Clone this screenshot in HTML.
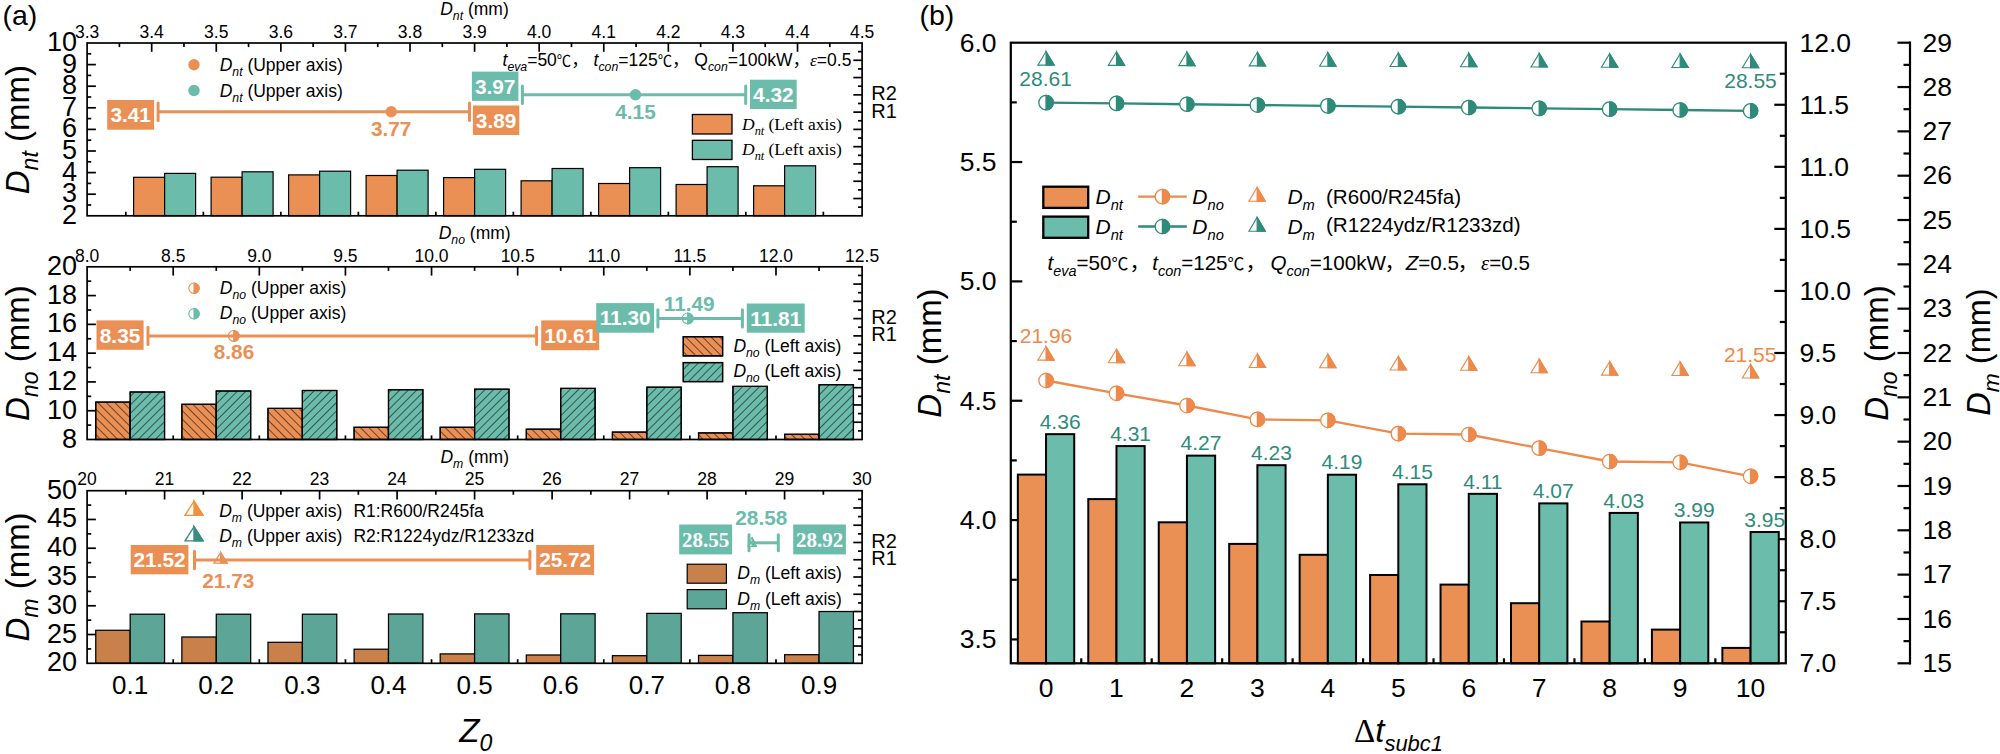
<!DOCTYPE html>
<html lang="en"><head><meta charset="utf-8"><title>Figure</title>
<style>html,body{margin:0;padding:0;background:#fff}svg{display:block}</style></head><body>
<svg width="2000" height="754" viewBox="0 0 2000 754">
<defs>
<pattern id="hb" width="6" height="6" patternUnits="userSpaceOnUse" patternTransform="rotate(-45)"><line x1="0" y1="0" x2="0" y2="6" stroke="#000" stroke-width="1.1"/></pattern>
<pattern id="hf" width="6" height="6" patternUnits="userSpaceOnUse" patternTransform="rotate(45)"><line x1="0" y1="0" x2="0" y2="6" stroke="#000" stroke-width="1.1"/></pattern>
</defs>
<rect x="0" y="0" width="2000" height="754" fill="#fff"/>
<text x="2.5" y="24.7" font-family='"Liberation Sans", sans-serif' font-size="28.5" fill="#000" >(a)</text>
<text x="919.5" y="24.7" font-family='"Liberation Sans", sans-serif' font-size="28.5" fill="#000" >(b)</text>
<line x1="125.85" y1="215.8" x2="125.85" y2="211.7" stroke="#000" stroke-width="1.7" />
<line x1="203.35" y1="215.8" x2="203.35" y2="211.7" stroke="#000" stroke-width="1.7" />
<line x1="280.85" y1="215.8" x2="280.85" y2="211.7" stroke="#000" stroke-width="1.7" />
<line x1="358.35" y1="215.8" x2="358.35" y2="211.7" stroke="#000" stroke-width="1.7" />
<line x1="435.85" y1="215.8" x2="435.85" y2="211.7" stroke="#000" stroke-width="1.7" />
<line x1="513.35" y1="215.8" x2="513.35" y2="211.7" stroke="#000" stroke-width="1.7" />
<line x1="590.85" y1="215.8" x2="590.85" y2="211.7" stroke="#000" stroke-width="1.7" />
<line x1="668.35" y1="215.8" x2="668.35" y2="211.7" stroke="#000" stroke-width="1.7" />
<line x1="745.85" y1="215.8" x2="745.85" y2="211.7" stroke="#000" stroke-width="1.7" />
<line x1="823.35" y1="215.8" x2="823.35" y2="211.7" stroke="#000" stroke-width="1.7" />
<line x1="164.6" y1="215.8" x2="164.6" y2="207" stroke="#000" stroke-width="1.7" />
<line x1="242.1" y1="215.8" x2="242.1" y2="207" stroke="#000" stroke-width="1.7" />
<line x1="319.6" y1="215.8" x2="319.6" y2="207" stroke="#000" stroke-width="1.7" />
<line x1="397.1" y1="215.8" x2="397.1" y2="207" stroke="#000" stroke-width="1.7" />
<line x1="474.6" y1="215.8" x2="474.6" y2="207" stroke="#000" stroke-width="1.7" />
<line x1="552.1" y1="215.8" x2="552.1" y2="207" stroke="#000" stroke-width="1.7" />
<line x1="629.6" y1="215.8" x2="629.6" y2="207" stroke="#000" stroke-width="1.7" />
<line x1="707.1" y1="215.8" x2="707.1" y2="207" stroke="#000" stroke-width="1.7" />
<line x1="784.6" y1="215.8" x2="784.6" y2="207" stroke="#000" stroke-width="1.7" />
<rect x="133.6" y="177.3" width="31" height="38.5" fill="#EB9055" stroke="#000" stroke-width="1.2" />
<rect x="164.6" y="173.4" width="31" height="42.4" fill="#6CBCAB" stroke="#000" stroke-width="1.2" />
<rect x="211.1" y="177.2" width="31" height="38.6" fill="#EB9055" stroke="#000" stroke-width="1.2" />
<rect x="242.1" y="171.8" width="31" height="44" fill="#6CBCAB" stroke="#000" stroke-width="1.2" />
<rect x="288.6" y="174.9" width="31" height="40.9" fill="#EB9055" stroke="#000" stroke-width="1.2" />
<rect x="319.6" y="171.2" width="31" height="44.6" fill="#6CBCAB" stroke="#000" stroke-width="1.2" />
<rect x="366.1" y="175.5" width="31" height="40.3" fill="#EB9055" stroke="#000" stroke-width="1.2" />
<rect x="397.1" y="170.2" width="31" height="45.6" fill="#6CBCAB" stroke="#000" stroke-width="1.2" />
<rect x="443.6" y="177.6" width="31" height="38.2" fill="#EB9055" stroke="#000" stroke-width="1.2" />
<rect x="474.6" y="169.3" width="31" height="46.5" fill="#6CBCAB" stroke="#000" stroke-width="1.2" />
<rect x="521.1" y="180.8" width="31" height="35" fill="#EB9055" stroke="#000" stroke-width="1.2" />
<rect x="552.1" y="168.5" width="31" height="47.3" fill="#6CBCAB" stroke="#000" stroke-width="1.2" />
<rect x="598.6" y="183.5" width="31" height="32.3" fill="#EB9055" stroke="#000" stroke-width="1.2" />
<rect x="629.6" y="167.7" width="31" height="48.1" fill="#6CBCAB" stroke="#000" stroke-width="1.2" />
<rect x="676.1" y="184.5" width="31" height="31.3" fill="#EB9055" stroke="#000" stroke-width="1.2" />
<rect x="707.1" y="166.7" width="31" height="49.1" fill="#6CBCAB" stroke="#000" stroke-width="1.2" />
<rect x="753.6" y="185.8" width="31" height="30" fill="#EB9055" stroke="#000" stroke-width="1.2" />
<rect x="784.6" y="165.8" width="31" height="50" fill="#6CBCAB" stroke="#000" stroke-width="1.2" />
<line x1="151.68" y1="43" x2="151.68" y2="51.8" stroke="#000" stroke-width="1.7" />
<line x1="216.27" y1="43" x2="216.27" y2="51.8" stroke="#000" stroke-width="1.7" />
<line x1="280.85" y1="43" x2="280.85" y2="51.8" stroke="#000" stroke-width="1.7" />
<line x1="345.43" y1="43" x2="345.43" y2="51.8" stroke="#000" stroke-width="1.7" />
<line x1="410.02" y1="43" x2="410.02" y2="51.8" stroke="#000" stroke-width="1.7" />
<line x1="474.6" y1="43" x2="474.6" y2="51.8" stroke="#000" stroke-width="1.7" />
<line x1="539.18" y1="43" x2="539.18" y2="51.8" stroke="#000" stroke-width="1.7" />
<line x1="603.77" y1="43" x2="603.77" y2="51.8" stroke="#000" stroke-width="1.7" />
<line x1="668.35" y1="43" x2="668.35" y2="51.8" stroke="#000" stroke-width="1.7" />
<line x1="732.93" y1="43" x2="732.93" y2="51.8" stroke="#000" stroke-width="1.7" />
<line x1="797.52" y1="43" x2="797.52" y2="51.8" stroke="#000" stroke-width="1.7" />
<line x1="119.39" y1="43" x2="119.39" y2="47.1" stroke="#000" stroke-width="1.7" />
<line x1="183.97" y1="43" x2="183.97" y2="47.1" stroke="#000" stroke-width="1.7" />
<line x1="248.56" y1="43" x2="248.56" y2="47.1" stroke="#000" stroke-width="1.7" />
<line x1="313.14" y1="43" x2="313.14" y2="47.1" stroke="#000" stroke-width="1.7" />
<line x1="377.73" y1="43" x2="377.73" y2="47.1" stroke="#000" stroke-width="1.7" />
<line x1="442.31" y1="43" x2="442.31" y2="47.1" stroke="#000" stroke-width="1.7" />
<line x1="506.89" y1="43" x2="506.89" y2="47.1" stroke="#000" stroke-width="1.7" />
<line x1="571.47" y1="43" x2="571.47" y2="47.1" stroke="#000" stroke-width="1.7" />
<line x1="636.06" y1="43" x2="636.06" y2="47.1" stroke="#000" stroke-width="1.7" />
<line x1="700.64" y1="43" x2="700.64" y2="47.1" stroke="#000" stroke-width="1.7" />
<line x1="765.23" y1="43" x2="765.23" y2="47.1" stroke="#000" stroke-width="1.7" />
<line x1="829.81" y1="43" x2="829.81" y2="47.1" stroke="#000" stroke-width="1.7" />
<text x="87.1" y="37.6" font-family='"Liberation Sans", sans-serif' font-size="17.5" fill="#000" text-anchor="middle" >3.3</text>
<text x="151.68" y="37.6" font-family='"Liberation Sans", sans-serif' font-size="17.5" fill="#000" text-anchor="middle" >3.4</text>
<text x="216.27" y="37.6" font-family='"Liberation Sans", sans-serif' font-size="17.5" fill="#000" text-anchor="middle" >3.5</text>
<text x="280.85" y="37.6" font-family='"Liberation Sans", sans-serif' font-size="17.5" fill="#000" text-anchor="middle" >3.6</text>
<text x="345.43" y="37.6" font-family='"Liberation Sans", sans-serif' font-size="17.5" fill="#000" text-anchor="middle" >3.7</text>
<text x="410.02" y="37.6" font-family='"Liberation Sans", sans-serif' font-size="17.5" fill="#000" text-anchor="middle" >3.8</text>
<text x="474.6" y="37.6" font-family='"Liberation Sans", sans-serif' font-size="17.5" fill="#000" text-anchor="middle" >3.9</text>
<text x="539.18" y="37.6" font-family='"Liberation Sans", sans-serif' font-size="17.5" fill="#000" text-anchor="middle" >4.0</text>
<text x="603.77" y="37.6" font-family='"Liberation Sans", sans-serif' font-size="17.5" fill="#000" text-anchor="middle" >4.1</text>
<text x="668.35" y="37.6" font-family='"Liberation Sans", sans-serif' font-size="17.5" fill="#000" text-anchor="middle" >4.2</text>
<text x="732.93" y="37.6" font-family='"Liberation Sans", sans-serif' font-size="17.5" fill="#000" text-anchor="middle" >4.3</text>
<text x="797.52" y="37.6" font-family='"Liberation Sans", sans-serif' font-size="17.5" fill="#000" text-anchor="middle" >4.4</text>
<text x="862.1" y="37.6" font-family='"Liberation Sans", sans-serif' font-size="17.5" fill="#000" text-anchor="middle" >4.5</text>
<line x1="87.1" y1="64.6" x2="95.9" y2="64.6" stroke="#000" stroke-width="1.7" />
<line x1="87.1" y1="86.2" x2="95.9" y2="86.2" stroke="#000" stroke-width="1.7" />
<line x1="87.1" y1="107.8" x2="95.9" y2="107.8" stroke="#000" stroke-width="1.7" />
<line x1="87.1" y1="129.4" x2="95.9" y2="129.4" stroke="#000" stroke-width="1.7" />
<line x1="87.1" y1="151" x2="95.9" y2="151" stroke="#000" stroke-width="1.7" />
<line x1="87.1" y1="172.6" x2="95.9" y2="172.6" stroke="#000" stroke-width="1.7" />
<line x1="87.1" y1="194.2" x2="95.9" y2="194.2" stroke="#000" stroke-width="1.7" />
<line x1="87.1" y1="53.8" x2="91.2" y2="53.8" stroke="#000" stroke-width="1.7" />
<line x1="87.1" y1="75.4" x2="91.2" y2="75.4" stroke="#000" stroke-width="1.7" />
<line x1="87.1" y1="97" x2="91.2" y2="97" stroke="#000" stroke-width="1.7" />
<line x1="87.1" y1="118.6" x2="91.2" y2="118.6" stroke="#000" stroke-width="1.7" />
<line x1="87.1" y1="140.2" x2="91.2" y2="140.2" stroke="#000" stroke-width="1.7" />
<line x1="87.1" y1="161.8" x2="91.2" y2="161.8" stroke="#000" stroke-width="1.7" />
<line x1="87.1" y1="183.4" x2="91.2" y2="183.4" stroke="#000" stroke-width="1.7" />
<line x1="87.1" y1="205" x2="91.2" y2="205" stroke="#000" stroke-width="1.7" />
<text x="77" y="51" font-family='"Liberation Sans", sans-serif' font-size="27" fill="#000" text-anchor="end" >10</text>
<text x="77" y="72.6" font-family='"Liberation Sans", sans-serif' font-size="27" fill="#000" text-anchor="end" >9</text>
<text x="77" y="94.2" font-family='"Liberation Sans", sans-serif' font-size="27" fill="#000" text-anchor="end" >8</text>
<text x="77" y="115.8" font-family='"Liberation Sans", sans-serif' font-size="27" fill="#000" text-anchor="end" >7</text>
<text x="77" y="137.4" font-family='"Liberation Sans", sans-serif' font-size="27" fill="#000" text-anchor="end" >6</text>
<text x="77" y="159" font-family='"Liberation Sans", sans-serif' font-size="27" fill="#000" text-anchor="end" >5</text>
<text x="77" y="180.6" font-family='"Liberation Sans", sans-serif' font-size="27" fill="#000" text-anchor="end" >4</text>
<text x="77" y="202.2" font-family='"Liberation Sans", sans-serif' font-size="27" fill="#000" text-anchor="end" >3</text>
<text x="77" y="223.8" font-family='"Liberation Sans", sans-serif' font-size="27" fill="#000" text-anchor="end" >2</text>
<line x1="862.1" y1="60.28" x2="853.3" y2="60.28" stroke="#000" stroke-width="1.7" />
<line x1="862.1" y1="77.56" x2="853.3" y2="77.56" stroke="#000" stroke-width="1.7" />
<line x1="862.1" y1="94.84" x2="853.3" y2="94.84" stroke="#000" stroke-width="1.7" />
<line x1="862.1" y1="112.12" x2="853.3" y2="112.12" stroke="#000" stroke-width="1.7" />
<line x1="862.1" y1="129.4" x2="853.3" y2="129.4" stroke="#000" stroke-width="1.7" />
<line x1="862.1" y1="146.68" x2="853.3" y2="146.68" stroke="#000" stroke-width="1.7" />
<line x1="862.1" y1="163.96" x2="853.3" y2="163.96" stroke="#000" stroke-width="1.7" />
<line x1="862.1" y1="181.24" x2="853.3" y2="181.24" stroke="#000" stroke-width="1.7" />
<line x1="862.1" y1="198.52" x2="853.3" y2="198.52" stroke="#000" stroke-width="1.7" />
<line x1="862.1" y1="51.64" x2="858" y2="51.64" stroke="#000" stroke-width="1.7" />
<line x1="862.1" y1="68.92" x2="858" y2="68.92" stroke="#000" stroke-width="1.7" />
<line x1="862.1" y1="86.2" x2="858" y2="86.2" stroke="#000" stroke-width="1.7" />
<line x1="862.1" y1="103.48" x2="858" y2="103.48" stroke="#000" stroke-width="1.7" />
<line x1="862.1" y1="120.76" x2="858" y2="120.76" stroke="#000" stroke-width="1.7" />
<line x1="862.1" y1="138.04" x2="858" y2="138.04" stroke="#000" stroke-width="1.7" />
<line x1="862.1" y1="155.32" x2="858" y2="155.32" stroke="#000" stroke-width="1.7" />
<line x1="862.1" y1="172.6" x2="858" y2="172.6" stroke="#000" stroke-width="1.7" />
<line x1="862.1" y1="189.88" x2="858" y2="189.88" stroke="#000" stroke-width="1.7" />
<line x1="862.1" y1="207.16" x2="858" y2="207.16" stroke="#000" stroke-width="1.7" />
<text x="871.3" y="100.44" font-family='"Liberation Sans", sans-serif' font-size="20" fill="#000" >R2</text>
<text x="871.3" y="117.72" font-family='"Liberation Sans", sans-serif' font-size="20" fill="#000" >R1</text>
<rect x="87.1" y="43" width="775" height="172.8" fill="none" stroke="#000" stroke-width="1.7"/>
<text x="474.5" y="14.7" font-family='"Liberation Sans", sans-serif' font-size="17.5" fill="#000" text-anchor="middle" ><tspan font-style="italic">D</tspan><tspan font-style="italic" font-size="12.25" baseline-shift="-4.73">nt</tspan> (mm)</text>
<text transform="translate(29.2,129.6) rotate(-90)" font-family='"Liberation Sans", sans-serif' font-size="33" text-anchor="middle"><tspan font-style="italic">D</tspan><tspan font-style="italic" font-size="23.1" baseline-shift="-8.91">nt</tspan> (mm)</text>
<circle cx="194" cy="64.7" r="5.7" fill="#EB9055"/>
<circle cx="194" cy="90.5" r="5.7" fill="#6CBCAB"/>
<text x="219.7" y="70.7" font-family='"Liberation Sans", sans-serif' font-size="17.5" fill="#000" ><tspan font-style="italic">D</tspan><tspan font-style="italic" font-size="12.25" baseline-shift="-4.73">nt</tspan> (Upper axis)</text>
<text x="219.7" y="96.5" font-family='"Liberation Sans", sans-serif' font-size="17.5" fill="#000" ><tspan font-style="italic">D</tspan><tspan font-style="italic" font-size="12.25" baseline-shift="-4.73">nt</tspan> (Upper axis)</text>
<text x="851.4" y="65.9" font-family='"Liberation Sans", "Noto Sans CJK SC", sans-serif' font-size="17.5" fill="#000" text-anchor="end" ><tspan font-style="italic">t</tspan><tspan font-style="italic" font-size="12.25" baseline-shift="-4.73">eva</tspan>=50<tspan font-size="14.35" font-family='"Liberation Sans", "Noto Sans CJK SC", sans-serif'>℃</tspan><tspan font-family='"Liberation Sans", "Noto Sans CJK SC", sans-serif'>，</tspan> <tspan font-style="italic">t</tspan><tspan font-style="italic" font-size="12.25" baseline-shift="-4.73">con</tspan>=125<tspan font-size="14.35" font-family='"Liberation Sans", "Noto Sans CJK SC", sans-serif'>℃</tspan><tspan font-family='"Liberation Sans", "Noto Sans CJK SC", sans-serif'>，</tspan> <tspan>Q</tspan><tspan font-style="italic" font-size="12.25" baseline-shift="-4.73">con</tspan>=100kW<tspan font-family='"Liberation Sans", "Noto Sans CJK SC", sans-serif'>，</tspan><tspan font-style="italic" font-family='"Liberation Serif", serif'>ε</tspan>=0.5</text>
<line x1="158.1" y1="111.8" x2="469.5" y2="111.8" stroke="#EB9055" stroke-width="3" />
<line x1="158.1" y1="103.1" x2="158.1" y2="120.5" stroke="#EB9055" stroke-width="3" stroke-linecap="round"/>
<line x1="469.5" y1="103.1" x2="469.5" y2="120.5" stroke="#EB9055" stroke-width="3" stroke-linecap="round"/>
<circle cx="391.2" cy="111.8" r="5.7" fill="#EB9055"/>
<line x1="522.4" y1="94.7" x2="745.7" y2="94.7" stroke="#6CBCAB" stroke-width="3" />
<line x1="522.4" y1="86" x2="522.4" y2="103.4" stroke="#6CBCAB" stroke-width="3" stroke-linecap="round"/>
<line x1="745.7" y1="86" x2="745.7" y2="103.4" stroke="#6CBCAB" stroke-width="3" stroke-linecap="round"/>
<circle cx="635.5" cy="94.7" r="5.7" fill="#6CBCAB"/>
<rect x="107.2" y="100" width="46.9" height="29.7" fill="#EB9055" />
<text x="130.65" y="122.3" font-family='"Liberation Sans", sans-serif' font-size="20.8" fill="#fff" text-anchor="middle" font-weight="bold" >3.41</text>
<rect x="472.9" y="105.5" width="46.4" height="29.5" fill="#EB9055" />
<text x="496.1" y="127.7" font-family='"Liberation Sans", sans-serif' font-size="20.8" fill="#fff" text-anchor="middle" font-weight="bold" >3.89</text>
<rect x="471.9" y="71.6" width="46.5" height="29.3" fill="#6CBCAB" />
<text x="495.15" y="93.7" font-family='"Liberation Sans", sans-serif' font-size="20.8" fill="#fff" text-anchor="middle" font-weight="bold" >3.97</text>
<rect x="750" y="79.7" width="46.7" height="29.3" fill="#6CBCAB" />
<text x="773.35" y="101.8" font-family='"Liberation Sans", sans-serif' font-size="20.8" fill="#fff" text-anchor="middle" font-weight="bold" >4.32</text>
<text x="391.2" y="136" font-family='"Liberation Sans", sans-serif' font-size="20.8" fill="#EB9055" text-anchor="middle" font-weight="bold" >3.77</text>
<text x="635.5" y="118.7" font-family='"Liberation Sans", sans-serif' font-size="20.8" fill="#6CBCAB" text-anchor="middle" font-weight="bold" >4.15</text>
<rect x="692.4" y="114.5" width="39.6" height="19.5" fill="#EB9055" stroke="#000" stroke-width="1.3" />
<rect x="692.4" y="140.3" width="39.6" height="19.2" fill="#6CBCAB" stroke="#000" stroke-width="1.3" />
<text x="742" y="129.7" font-family='"Liberation Serif", serif' font-size="17.5" fill="#000" ><tspan font-style="italic">D</tspan><tspan font-style="italic" font-size="12.25" baseline-shift="-4.73">nt</tspan> (Left axis)</text>
<text x="742" y="155.2" font-family='"Liberation Serif", serif' font-size="17.5" fill="#000" ><tspan font-style="italic">D</tspan><tspan font-style="italic" font-size="12.25" baseline-shift="-4.73">nt</tspan> (Left axis)</text>
<line x1="173.21" y1="439.5" x2="173.21" y2="435.4" stroke="#000" stroke-width="1.7" />
<line x1="259.32" y1="439.5" x2="259.32" y2="435.4" stroke="#000" stroke-width="1.7" />
<line x1="345.43" y1="439.5" x2="345.43" y2="435.4" stroke="#000" stroke-width="1.7" />
<line x1="431.54" y1="439.5" x2="431.54" y2="435.4" stroke="#000" stroke-width="1.7" />
<line x1="517.66" y1="439.5" x2="517.66" y2="435.4" stroke="#000" stroke-width="1.7" />
<line x1="603.77" y1="439.5" x2="603.77" y2="435.4" stroke="#000" stroke-width="1.7" />
<line x1="689.88" y1="439.5" x2="689.88" y2="435.4" stroke="#000" stroke-width="1.7" />
<line x1="775.99" y1="439.5" x2="775.99" y2="435.4" stroke="#000" stroke-width="1.7" />
<rect x="95.76" y="402.1" width="34.4" height="37.4" fill="#EB9055" stroke="#000" stroke-width="1.2" />
<rect x="95.76" y="402.1" width="34.4" height="37.4" fill="url(#hb)"/>
<rect x="95.76" y="402.1" width="34.4" height="37.4" fill="none" stroke="#000" stroke-width="1.2"/>
<rect x="130.16" y="392" width="34.4" height="47.5" fill="#6CBCAB" stroke="#000" stroke-width="1.2" />
<rect x="130.16" y="392" width="34.4" height="47.5" fill="url(#hf)"/>
<rect x="130.16" y="392" width="34.4" height="47.5" fill="none" stroke="#000" stroke-width="1.2"/>
<rect x="181.87" y="404.3" width="34.4" height="35.2" fill="#EB9055" stroke="#000" stroke-width="1.2" />
<rect x="181.87" y="404.3" width="34.4" height="35.2" fill="url(#hb)"/>
<rect x="181.87" y="404.3" width="34.4" height="35.2" fill="none" stroke="#000" stroke-width="1.2"/>
<rect x="216.27" y="391" width="34.4" height="48.5" fill="#6CBCAB" stroke="#000" stroke-width="1.2" />
<rect x="216.27" y="391" width="34.4" height="48.5" fill="url(#hf)"/>
<rect x="216.27" y="391" width="34.4" height="48.5" fill="none" stroke="#000" stroke-width="1.2"/>
<rect x="267.98" y="408.4" width="34.4" height="31.1" fill="#EB9055" stroke="#000" stroke-width="1.2" />
<rect x="267.98" y="408.4" width="34.4" height="31.1" fill="url(#hb)"/>
<rect x="267.98" y="408.4" width="34.4" height="31.1" fill="none" stroke="#000" stroke-width="1.2"/>
<rect x="302.38" y="390.5" width="34.4" height="49" fill="#6CBCAB" stroke="#000" stroke-width="1.2" />
<rect x="302.38" y="390.5" width="34.4" height="49" fill="url(#hf)"/>
<rect x="302.38" y="390.5" width="34.4" height="49" fill="none" stroke="#000" stroke-width="1.2"/>
<rect x="354.09" y="427.3" width="34.4" height="12.2" fill="#EB9055" stroke="#000" stroke-width="1.2" />
<rect x="354.09" y="427.3" width="34.4" height="12.2" fill="url(#hb)"/>
<rect x="354.09" y="427.3" width="34.4" height="12.2" fill="none" stroke="#000" stroke-width="1.2"/>
<rect x="388.49" y="389.7" width="34.4" height="49.8" fill="#6CBCAB" stroke="#000" stroke-width="1.2" />
<rect x="388.49" y="389.7" width="34.4" height="49.8" fill="url(#hf)"/>
<rect x="388.49" y="389.7" width="34.4" height="49.8" fill="none" stroke="#000" stroke-width="1.2"/>
<rect x="440.2" y="427.3" width="34.4" height="12.2" fill="#EB9055" stroke="#000" stroke-width="1.2" />
<rect x="440.2" y="427.3" width="34.4" height="12.2" fill="url(#hb)"/>
<rect x="440.2" y="427.3" width="34.4" height="12.2" fill="none" stroke="#000" stroke-width="1.2"/>
<rect x="474.6" y="389.2" width="34.4" height="50.3" fill="#6CBCAB" stroke="#000" stroke-width="1.2" />
<rect x="474.6" y="389.2" width="34.4" height="50.3" fill="url(#hf)"/>
<rect x="474.6" y="389.2" width="34.4" height="50.3" fill="none" stroke="#000" stroke-width="1.2"/>
<rect x="526.31" y="429.2" width="34.4" height="10.3" fill="#EB9055" stroke="#000" stroke-width="1.2" />
<rect x="526.31" y="429.2" width="34.4" height="10.3" fill="url(#hb)"/>
<rect x="526.31" y="429.2" width="34.4" height="10.3" fill="none" stroke="#000" stroke-width="1.2"/>
<rect x="560.71" y="388.4" width="34.4" height="51.1" fill="#6CBCAB" stroke="#000" stroke-width="1.2" />
<rect x="560.71" y="388.4" width="34.4" height="51.1" fill="url(#hf)"/>
<rect x="560.71" y="388.4" width="34.4" height="51.1" fill="none" stroke="#000" stroke-width="1.2"/>
<rect x="612.42" y="432.1" width="34.4" height="7.4" fill="#EB9055" stroke="#000" stroke-width="1.2" />
<rect x="612.42" y="432.1" width="34.4" height="7.4" fill="url(#hb)"/>
<rect x="612.42" y="432.1" width="34.4" height="7.4" fill="none" stroke="#000" stroke-width="1.2"/>
<rect x="646.82" y="387.2" width="34.4" height="52.3" fill="#6CBCAB" stroke="#000" stroke-width="1.2" />
<rect x="646.82" y="387.2" width="34.4" height="52.3" fill="url(#hf)"/>
<rect x="646.82" y="387.2" width="34.4" height="52.3" fill="none" stroke="#000" stroke-width="1.2"/>
<rect x="698.53" y="432.9" width="34.4" height="6.6" fill="#EB9055" stroke="#000" stroke-width="1.2" />
<rect x="698.53" y="432.9" width="34.4" height="6.6" fill="url(#hb)"/>
<rect x="698.53" y="432.9" width="34.4" height="6.6" fill="none" stroke="#000" stroke-width="1.2"/>
<rect x="732.93" y="386.4" width="34.4" height="53.1" fill="#6CBCAB" stroke="#000" stroke-width="1.2" />
<rect x="732.93" y="386.4" width="34.4" height="53.1" fill="url(#hf)"/>
<rect x="732.93" y="386.4" width="34.4" height="53.1" fill="none" stroke="#000" stroke-width="1.2"/>
<rect x="784.64" y="434.3" width="34.4" height="5.2" fill="#EB9055" stroke="#000" stroke-width="1.2" />
<rect x="784.64" y="434.3" width="34.4" height="5.2" fill="url(#hb)"/>
<rect x="784.64" y="434.3" width="34.4" height="5.2" fill="none" stroke="#000" stroke-width="1.2"/>
<rect x="819.04" y="384.7" width="34.4" height="54.8" fill="#6CBCAB" stroke="#000" stroke-width="1.2" />
<rect x="819.04" y="384.7" width="34.4" height="54.8" fill="url(#hf)"/>
<rect x="819.04" y="384.7" width="34.4" height="54.8" fill="none" stroke="#000" stroke-width="1.2"/>
<line x1="173.21" y1="266.8" x2="173.21" y2="275.6" stroke="#000" stroke-width="1.7" />
<line x1="259.32" y1="266.8" x2="259.32" y2="275.6" stroke="#000" stroke-width="1.7" />
<line x1="345.43" y1="266.8" x2="345.43" y2="275.6" stroke="#000" stroke-width="1.7" />
<line x1="431.54" y1="266.8" x2="431.54" y2="275.6" stroke="#000" stroke-width="1.7" />
<line x1="517.66" y1="266.8" x2="517.66" y2="275.6" stroke="#000" stroke-width="1.7" />
<line x1="603.77" y1="266.8" x2="603.77" y2="275.6" stroke="#000" stroke-width="1.7" />
<line x1="689.88" y1="266.8" x2="689.88" y2="275.6" stroke="#000" stroke-width="1.7" />
<line x1="775.99" y1="266.8" x2="775.99" y2="275.6" stroke="#000" stroke-width="1.7" />
<line x1="130.16" y1="266.8" x2="130.16" y2="270.9" stroke="#000" stroke-width="1.7" />
<line x1="216.27" y1="266.8" x2="216.27" y2="270.9" stroke="#000" stroke-width="1.7" />
<line x1="302.38" y1="266.8" x2="302.38" y2="270.9" stroke="#000" stroke-width="1.7" />
<line x1="388.49" y1="266.8" x2="388.49" y2="270.9" stroke="#000" stroke-width="1.7" />
<line x1="474.6" y1="266.8" x2="474.6" y2="270.9" stroke="#000" stroke-width="1.7" />
<line x1="560.71" y1="266.8" x2="560.71" y2="270.9" stroke="#000" stroke-width="1.7" />
<line x1="646.82" y1="266.8" x2="646.82" y2="270.9" stroke="#000" stroke-width="1.7" />
<line x1="732.93" y1="266.8" x2="732.93" y2="270.9" stroke="#000" stroke-width="1.7" />
<line x1="819.04" y1="266.8" x2="819.04" y2="270.9" stroke="#000" stroke-width="1.7" />
<text x="87.1" y="261.7" font-family='"Liberation Sans", sans-serif' font-size="17.5" fill="#000" text-anchor="middle" >8.0</text>
<text x="173.21" y="261.7" font-family='"Liberation Sans", sans-serif' font-size="17.5" fill="#000" text-anchor="middle" >8.5</text>
<text x="259.32" y="261.7" font-family='"Liberation Sans", sans-serif' font-size="17.5" fill="#000" text-anchor="middle" >9.0</text>
<text x="345.43" y="261.7" font-family='"Liberation Sans", sans-serif' font-size="17.5" fill="#000" text-anchor="middle" >9.5</text>
<text x="431.54" y="261.7" font-family='"Liberation Sans", sans-serif' font-size="17.5" fill="#000" text-anchor="middle" >10.0</text>
<text x="517.66" y="261.7" font-family='"Liberation Sans", sans-serif' font-size="17.5" fill="#000" text-anchor="middle" >10.5</text>
<text x="603.77" y="261.7" font-family='"Liberation Sans", sans-serif' font-size="17.5" fill="#000" text-anchor="middle" >11.0</text>
<text x="689.88" y="261.7" font-family='"Liberation Sans", sans-serif' font-size="17.5" fill="#000" text-anchor="middle" >11.5</text>
<text x="775.99" y="261.7" font-family='"Liberation Sans", sans-serif' font-size="17.5" fill="#000" text-anchor="middle" >12.0</text>
<text x="862.1" y="261.7" font-family='"Liberation Sans", sans-serif' font-size="17.5" fill="#000" text-anchor="middle" >12.5</text>
<line x1="87.1" y1="295.58" x2="95.9" y2="295.58" stroke="#000" stroke-width="1.7" />
<line x1="87.1" y1="324.37" x2="95.9" y2="324.37" stroke="#000" stroke-width="1.7" />
<line x1="87.1" y1="353.15" x2="95.9" y2="353.15" stroke="#000" stroke-width="1.7" />
<line x1="87.1" y1="381.93" x2="95.9" y2="381.93" stroke="#000" stroke-width="1.7" />
<line x1="87.1" y1="410.72" x2="95.9" y2="410.72" stroke="#000" stroke-width="1.7" />
<line x1="87.1" y1="281.19" x2="91.2" y2="281.19" stroke="#000" stroke-width="1.7" />
<line x1="87.1" y1="309.98" x2="91.2" y2="309.98" stroke="#000" stroke-width="1.7" />
<line x1="87.1" y1="338.76" x2="91.2" y2="338.76" stroke="#000" stroke-width="1.7" />
<line x1="87.1" y1="367.54" x2="91.2" y2="367.54" stroke="#000" stroke-width="1.7" />
<line x1="87.1" y1="396.32" x2="91.2" y2="396.32" stroke="#000" stroke-width="1.7" />
<line x1="87.1" y1="425.11" x2="91.2" y2="425.11" stroke="#000" stroke-width="1.7" />
<text x="77" y="274.8" font-family='"Liberation Sans", sans-serif' font-size="27" fill="#000" text-anchor="end" >20</text>
<text x="77" y="303.58" font-family='"Liberation Sans", sans-serif' font-size="27" fill="#000" text-anchor="end" >18</text>
<text x="77" y="332.37" font-family='"Liberation Sans", sans-serif' font-size="27" fill="#000" text-anchor="end" >16</text>
<text x="77" y="361.15" font-family='"Liberation Sans", sans-serif' font-size="27" fill="#000" text-anchor="end" >14</text>
<text x="77" y="389.93" font-family='"Liberation Sans", sans-serif' font-size="27" fill="#000" text-anchor="end" >12</text>
<text x="77" y="418.72" font-family='"Liberation Sans", sans-serif' font-size="27" fill="#000" text-anchor="end" >10</text>
<text x="77" y="447.5" font-family='"Liberation Sans", sans-serif' font-size="27" fill="#000" text-anchor="end" >8</text>
<line x1="862.1" y1="284.07" x2="853.3" y2="284.07" stroke="#000" stroke-width="1.7" />
<line x1="862.1" y1="301.34" x2="853.3" y2="301.34" stroke="#000" stroke-width="1.7" />
<line x1="862.1" y1="318.61" x2="853.3" y2="318.61" stroke="#000" stroke-width="1.7" />
<line x1="862.1" y1="335.88" x2="853.3" y2="335.88" stroke="#000" stroke-width="1.7" />
<line x1="862.1" y1="353.15" x2="853.3" y2="353.15" stroke="#000" stroke-width="1.7" />
<line x1="862.1" y1="370.42" x2="853.3" y2="370.42" stroke="#000" stroke-width="1.7" />
<line x1="862.1" y1="387.69" x2="853.3" y2="387.69" stroke="#000" stroke-width="1.7" />
<line x1="862.1" y1="404.96" x2="853.3" y2="404.96" stroke="#000" stroke-width="1.7" />
<line x1="862.1" y1="422.23" x2="853.3" y2="422.23" stroke="#000" stroke-width="1.7" />
<line x1="862.1" y1="275.44" x2="858" y2="275.44" stroke="#000" stroke-width="1.7" />
<line x1="862.1" y1="292.71" x2="858" y2="292.71" stroke="#000" stroke-width="1.7" />
<line x1="862.1" y1="309.98" x2="858" y2="309.98" stroke="#000" stroke-width="1.7" />
<line x1="862.1" y1="327.25" x2="858" y2="327.25" stroke="#000" stroke-width="1.7" />
<line x1="862.1" y1="344.51" x2="858" y2="344.51" stroke="#000" stroke-width="1.7" />
<line x1="862.1" y1="361.79" x2="858" y2="361.79" stroke="#000" stroke-width="1.7" />
<line x1="862.1" y1="379.06" x2="858" y2="379.06" stroke="#000" stroke-width="1.7" />
<line x1="862.1" y1="396.33" x2="858" y2="396.33" stroke="#000" stroke-width="1.7" />
<line x1="862.1" y1="413.6" x2="858" y2="413.6" stroke="#000" stroke-width="1.7" />
<line x1="862.1" y1="430.87" x2="858" y2="430.87" stroke="#000" stroke-width="1.7" />
<text x="871.3" y="324.21" font-family='"Liberation Sans", sans-serif' font-size="20" fill="#000" >R2</text>
<text x="871.3" y="341.48" font-family='"Liberation Sans", sans-serif' font-size="20" fill="#000" >R1</text>
<rect x="87.1" y="266.8" width="775" height="172.7" fill="none" stroke="#000" stroke-width="1.7"/>
<text x="474.7" y="239.3" font-family='"Liberation Sans", sans-serif' font-size="17.5" fill="#000" text-anchor="middle" ><tspan font-style="italic">D</tspan><tspan font-style="italic" font-size="12.25" baseline-shift="-4.73">no</tspan> (mm)</text>
<text transform="translate(29.2,353.2) rotate(-90)" font-family='"Liberation Sans", sans-serif' font-size="33" text-anchor="middle"><tspan font-style="italic">D</tspan><tspan font-style="italic" font-size="23.1" baseline-shift="-8.91">no</tspan> (mm)</text>
<circle cx="194" cy="288.2" r="5.2" fill="#fff" stroke="#EB9055" stroke-width="1.1"/>
<path d="M194 283 A5.2 5.2 0 0 1 194 293.4 Z" fill="#EB9055" stroke="#EB9055" stroke-width="1.1"/>
<circle cx="194" cy="313.8" r="5.2" fill="#fff" stroke="#6CBCAB" stroke-width="1.1"/>
<path d="M194 308.6 A5.2 5.2 0 0 1 194 319 Z" fill="#6CBCAB" stroke="#6CBCAB" stroke-width="1.1"/>
<text x="219.8" y="293.6" font-family='"Liberation Sans", sans-serif' font-size="17.5" fill="#000" ><tspan font-style="italic">D</tspan><tspan font-style="italic" font-size="12.25" baseline-shift="-4.73">no</tspan> (Upper axis)</text>
<text x="219.8" y="318.8" font-family='"Liberation Sans", sans-serif' font-size="17.5" fill="#000" ><tspan font-style="italic">D</tspan><tspan font-style="italic" font-size="12.25" baseline-shift="-4.73">no</tspan> (Upper axis)</text>
<line x1="148" y1="335.9" x2="536.6" y2="335.9" stroke="#EB9055" stroke-width="3" />
<line x1="148" y1="327.2" x2="148" y2="344.6" stroke="#EB9055" stroke-width="3" stroke-linecap="round"/>
<line x1="536.6" y1="327.2" x2="536.6" y2="344.6" stroke="#EB9055" stroke-width="3" stroke-linecap="round"/>
<circle cx="233.7" cy="335.9" r="5.4" fill="none" stroke="#EB9055" stroke-width="1.2"/>
<path d="M233.7 330.5 A5.4 5.4 0 0 1 233.7 341.3 Z" fill="#EB9055" stroke="#EB9055" stroke-width="1.2"/>
<line x1="657.9" y1="318.4" x2="742.4" y2="318.4" stroke="#6CBCAB" stroke-width="3" />
<line x1="657.9" y1="309.7" x2="657.9" y2="327.1" stroke="#6CBCAB" stroke-width="3" stroke-linecap="round"/>
<line x1="742.4" y1="309.7" x2="742.4" y2="327.1" stroke="#6CBCAB" stroke-width="3" stroke-linecap="round"/>
<circle cx="687.7" cy="318.4" r="5.4" fill="none" stroke="#6CBCAB" stroke-width="1.2"/>
<path d="M687.7 313 A5.4 5.4 0 0 1 687.7 323.8 Z" fill="#6CBCAB" stroke="#6CBCAB" stroke-width="1.2"/>
<rect x="96.5" y="320.4" width="47.1" height="29.4" fill="#EB9055" />
<text x="120.05" y="342.55" font-family='"Liberation Sans", sans-serif' font-size="20.8" fill="#fff" text-anchor="middle" font-weight="bold" >8.35</text>
<rect x="541.2" y="320.4" width="58" height="29.8" fill="#EB9055" />
<text x="570.2" y="342.75" font-family='"Liberation Sans", sans-serif' font-size="20.8" fill="#fff" text-anchor="middle" font-weight="bold" >10.61</text>
<rect x="596.2" y="303.1" width="57.9" height="29.6" fill="#6CBCAB" />
<text x="625.15" y="325.35" font-family='"Liberation Sans", sans-serif' font-size="20.8" fill="#fff" text-anchor="middle" font-weight="bold" >11.30</text>
<rect x="746.8" y="303.5" width="57.9" height="29.2" fill="#6CBCAB" />
<text x="775.75" y="325.55" font-family='"Liberation Sans", sans-serif' font-size="20.8" fill="#fff" text-anchor="middle" font-weight="bold" >11.81</text>
<text x="234" y="359" font-family='"Liberation Sans", sans-serif' font-size="20.8" fill="#EB9055" text-anchor="middle" font-weight="bold" >8.86</text>
<text x="689.2" y="310.8" font-family='"Liberation Sans", sans-serif' font-size="20.8" fill="#6CBCAB" text-anchor="middle" font-weight="bold" >11.49</text>
<rect x="683.3" y="336.7" width="39.3" height="19.2" fill="#EB9055" stroke="#000" stroke-width="1.3" />
<rect x="683.3" y="336.7" width="39.3" height="19.2" fill="url(#hb)"/>
<rect x="683.3" y="336.7" width="39.3" height="19.2" fill="none" stroke="#000" stroke-width="1.3"/>
<rect x="683.3" y="362.6" width="39.3" height="19" fill="#6CBCAB" stroke="#000" stroke-width="1.3" />
<rect x="683.3" y="362.6" width="39.3" height="19" fill="url(#hf)"/>
<rect x="683.3" y="362.6" width="39.3" height="19" fill="none" stroke="#000" stroke-width="1.3"/>
<text x="733.4" y="351.9" font-family='"Liberation Sans", sans-serif' font-size="17.5" fill="#000" ><tspan font-style="italic">D</tspan><tspan font-style="italic" font-size="12.25" baseline-shift="-4.73">no</tspan> (Left axis)</text>
<text x="733.4" y="377.2" font-family='"Liberation Sans", sans-serif' font-size="17.5" fill="#000" ><tspan font-style="italic">D</tspan><tspan font-style="italic" font-size="12.25" baseline-shift="-4.73">no</tspan> (Left axis)</text>
<line x1="173.21" y1="663.3" x2="173.21" y2="659.2" stroke="#000" stroke-width="1.7" />
<line x1="259.32" y1="663.3" x2="259.32" y2="659.2" stroke="#000" stroke-width="1.7" />
<line x1="345.43" y1="663.3" x2="345.43" y2="659.2" stroke="#000" stroke-width="1.7" />
<line x1="431.54" y1="663.3" x2="431.54" y2="659.2" stroke="#000" stroke-width="1.7" />
<line x1="517.66" y1="663.3" x2="517.66" y2="659.2" stroke="#000" stroke-width="1.7" />
<line x1="603.77" y1="663.3" x2="603.77" y2="659.2" stroke="#000" stroke-width="1.7" />
<line x1="689.88" y1="663.3" x2="689.88" y2="659.2" stroke="#000" stroke-width="1.7" />
<line x1="775.99" y1="663.3" x2="775.99" y2="659.2" stroke="#000" stroke-width="1.7" />
<rect x="95.76" y="630.3" width="34.4" height="33" fill="#C9814C" stroke="#000" stroke-width="1.25" />
<rect x="130.16" y="614.2" width="34.4" height="49.1" fill="#5DA596" stroke="#000" stroke-width="1.25" />
<text x="130.16" y="693.5" font-family='"Liberation Sans", sans-serif' font-size="26" fill="#000" text-anchor="middle" >0.1</text>
<rect x="181.87" y="637" width="34.4" height="26.3" fill="#C9814C" stroke="#000" stroke-width="1.25" />
<rect x="216.27" y="614.2" width="34.4" height="49.1" fill="#5DA596" stroke="#000" stroke-width="1.25" />
<text x="216.27" y="693.5" font-family='"Liberation Sans", sans-serif' font-size="26" fill="#000" text-anchor="middle" >0.2</text>
<rect x="267.98" y="642.3" width="34.4" height="21" fill="#C9814C" stroke="#000" stroke-width="1.25" />
<rect x="302.38" y="614.2" width="34.4" height="49.1" fill="#5DA596" stroke="#000" stroke-width="1.25" />
<text x="302.38" y="693.5" font-family='"Liberation Sans", sans-serif' font-size="26" fill="#000" text-anchor="middle" >0.3</text>
<rect x="354.09" y="649.2" width="34.4" height="14.1" fill="#C9814C" stroke="#000" stroke-width="1.25" />
<rect x="388.49" y="614" width="34.4" height="49.3" fill="#5DA596" stroke="#000" stroke-width="1.25" />
<text x="388.49" y="693.5" font-family='"Liberation Sans", sans-serif' font-size="26" fill="#000" text-anchor="middle" >0.4</text>
<rect x="440.2" y="653.9" width="34.4" height="9.4" fill="#C9814C" stroke="#000" stroke-width="1.25" />
<rect x="474.6" y="613.9" width="34.4" height="49.4" fill="#5DA596" stroke="#000" stroke-width="1.25" />
<text x="474.6" y="693.5" font-family='"Liberation Sans", sans-serif' font-size="26" fill="#000" text-anchor="middle" >0.5</text>
<rect x="526.31" y="655" width="34.4" height="8.3" fill="#C9814C" stroke="#000" stroke-width="1.25" />
<rect x="560.71" y="613.8" width="34.4" height="49.5" fill="#5DA596" stroke="#000" stroke-width="1.25" />
<text x="560.71" y="693.5" font-family='"Liberation Sans", sans-serif' font-size="26" fill="#000" text-anchor="middle" >0.6</text>
<rect x="612.42" y="655.7" width="34.4" height="7.6" fill="#C9814C" stroke="#000" stroke-width="1.25" />
<rect x="646.82" y="613.4" width="34.4" height="49.9" fill="#5DA596" stroke="#000" stroke-width="1.25" />
<text x="646.82" y="693.5" font-family='"Liberation Sans", sans-serif' font-size="26" fill="#000" text-anchor="middle" >0.7</text>
<rect x="698.53" y="655.4" width="34.4" height="7.9" fill="#C9814C" stroke="#000" stroke-width="1.25" />
<rect x="732.93" y="612.7" width="34.4" height="50.6" fill="#5DA596" stroke="#000" stroke-width="1.25" />
<text x="732.93" y="693.5" font-family='"Liberation Sans", sans-serif' font-size="26" fill="#000" text-anchor="middle" >0.8</text>
<rect x="784.64" y="654.7" width="34.4" height="8.6" fill="#C9814C" stroke="#000" stroke-width="1.25" />
<rect x="819.04" y="611.5" width="34.4" height="51.8" fill="#5DA596" stroke="#000" stroke-width="1.25" />
<text x="819.04" y="693.5" font-family='"Liberation Sans", sans-serif' font-size="26" fill="#000" text-anchor="middle" >0.9</text>
<line x1="164.6" y1="490.7" x2="164.6" y2="499.5" stroke="#000" stroke-width="1.7" />
<line x1="242.1" y1="490.7" x2="242.1" y2="499.5" stroke="#000" stroke-width="1.7" />
<line x1="319.6" y1="490.7" x2="319.6" y2="499.5" stroke="#000" stroke-width="1.7" />
<line x1="397.1" y1="490.7" x2="397.1" y2="499.5" stroke="#000" stroke-width="1.7" />
<line x1="474.6" y1="490.7" x2="474.6" y2="499.5" stroke="#000" stroke-width="1.7" />
<line x1="552.1" y1="490.7" x2="552.1" y2="499.5" stroke="#000" stroke-width="1.7" />
<line x1="629.6" y1="490.7" x2="629.6" y2="499.5" stroke="#000" stroke-width="1.7" />
<line x1="707.1" y1="490.7" x2="707.1" y2="499.5" stroke="#000" stroke-width="1.7" />
<line x1="784.6" y1="490.7" x2="784.6" y2="499.5" stroke="#000" stroke-width="1.7" />
<line x1="125.85" y1="490.7" x2="125.85" y2="494.8" stroke="#000" stroke-width="1.7" />
<line x1="203.35" y1="490.7" x2="203.35" y2="494.8" stroke="#000" stroke-width="1.7" />
<line x1="280.85" y1="490.7" x2="280.85" y2="494.8" stroke="#000" stroke-width="1.7" />
<line x1="358.35" y1="490.7" x2="358.35" y2="494.8" stroke="#000" stroke-width="1.7" />
<line x1="435.85" y1="490.7" x2="435.85" y2="494.8" stroke="#000" stroke-width="1.7" />
<line x1="513.35" y1="490.7" x2="513.35" y2="494.8" stroke="#000" stroke-width="1.7" />
<line x1="590.85" y1="490.7" x2="590.85" y2="494.8" stroke="#000" stroke-width="1.7" />
<line x1="668.35" y1="490.7" x2="668.35" y2="494.8" stroke="#000" stroke-width="1.7" />
<line x1="745.85" y1="490.7" x2="745.85" y2="494.8" stroke="#000" stroke-width="1.7" />
<line x1="823.35" y1="490.7" x2="823.35" y2="494.8" stroke="#000" stroke-width="1.7" />
<text x="87.1" y="484.8" font-family='"Liberation Sans", sans-serif' font-size="17.5" fill="#000" text-anchor="middle" >20</text>
<text x="164.6" y="484.8" font-family='"Liberation Sans", sans-serif' font-size="17.5" fill="#000" text-anchor="middle" >21</text>
<text x="242.1" y="484.8" font-family='"Liberation Sans", sans-serif' font-size="17.5" fill="#000" text-anchor="middle" >22</text>
<text x="319.6" y="484.8" font-family='"Liberation Sans", sans-serif' font-size="17.5" fill="#000" text-anchor="middle" >23</text>
<text x="397.1" y="484.8" font-family='"Liberation Sans", sans-serif' font-size="17.5" fill="#000" text-anchor="middle" >24</text>
<text x="474.6" y="484.8" font-family='"Liberation Sans", sans-serif' font-size="17.5" fill="#000" text-anchor="middle" >25</text>
<text x="552.1" y="484.8" font-family='"Liberation Sans", sans-serif' font-size="17.5" fill="#000" text-anchor="middle" >26</text>
<text x="629.6" y="484.8" font-family='"Liberation Sans", sans-serif' font-size="17.5" fill="#000" text-anchor="middle" >27</text>
<text x="707.1" y="484.8" font-family='"Liberation Sans", sans-serif' font-size="17.5" fill="#000" text-anchor="middle" >28</text>
<text x="784.6" y="484.8" font-family='"Liberation Sans", sans-serif' font-size="17.5" fill="#000" text-anchor="middle" >29</text>
<text x="862.1" y="484.8" font-family='"Liberation Sans", sans-serif' font-size="17.5" fill="#000" text-anchor="middle" >30</text>
<line x1="87.1" y1="519.47" x2="95.9" y2="519.47" stroke="#000" stroke-width="1.7" />
<line x1="87.1" y1="548.23" x2="95.9" y2="548.23" stroke="#000" stroke-width="1.7" />
<line x1="87.1" y1="577" x2="95.9" y2="577" stroke="#000" stroke-width="1.7" />
<line x1="87.1" y1="605.77" x2="95.9" y2="605.77" stroke="#000" stroke-width="1.7" />
<line x1="87.1" y1="634.53" x2="95.9" y2="634.53" stroke="#000" stroke-width="1.7" />
<line x1="87.1" y1="505.08" x2="91.2" y2="505.08" stroke="#000" stroke-width="1.7" />
<line x1="87.1" y1="533.85" x2="91.2" y2="533.85" stroke="#000" stroke-width="1.7" />
<line x1="87.1" y1="562.62" x2="91.2" y2="562.62" stroke="#000" stroke-width="1.7" />
<line x1="87.1" y1="591.38" x2="91.2" y2="591.38" stroke="#000" stroke-width="1.7" />
<line x1="87.1" y1="620.15" x2="91.2" y2="620.15" stroke="#000" stroke-width="1.7" />
<line x1="87.1" y1="648.92" x2="91.2" y2="648.92" stroke="#000" stroke-width="1.7" />
<text x="77" y="498.7" font-family='"Liberation Sans", sans-serif' font-size="27" fill="#000" text-anchor="end" >50</text>
<text x="77" y="527.47" font-family='"Liberation Sans", sans-serif' font-size="27" fill="#000" text-anchor="end" >45</text>
<text x="77" y="556.23" font-family='"Liberation Sans", sans-serif' font-size="27" fill="#000" text-anchor="end" >40</text>
<text x="77" y="585" font-family='"Liberation Sans", sans-serif' font-size="27" fill="#000" text-anchor="end" >35</text>
<text x="77" y="613.77" font-family='"Liberation Sans", sans-serif' font-size="27" fill="#000" text-anchor="end" >30</text>
<text x="77" y="642.53" font-family='"Liberation Sans", sans-serif' font-size="27" fill="#000" text-anchor="end" >25</text>
<text x="77" y="671.3" font-family='"Liberation Sans", sans-serif' font-size="27" fill="#000" text-anchor="end" >20</text>
<line x1="862.1" y1="507.96" x2="853.3" y2="507.96" stroke="#000" stroke-width="1.7" />
<line x1="862.1" y1="525.22" x2="853.3" y2="525.22" stroke="#000" stroke-width="1.7" />
<line x1="862.1" y1="542.48" x2="853.3" y2="542.48" stroke="#000" stroke-width="1.7" />
<line x1="862.1" y1="559.74" x2="853.3" y2="559.74" stroke="#000" stroke-width="1.7" />
<line x1="862.1" y1="577" x2="853.3" y2="577" stroke="#000" stroke-width="1.7" />
<line x1="862.1" y1="594.26" x2="853.3" y2="594.26" stroke="#000" stroke-width="1.7" />
<line x1="862.1" y1="611.52" x2="853.3" y2="611.52" stroke="#000" stroke-width="1.7" />
<line x1="862.1" y1="628.78" x2="853.3" y2="628.78" stroke="#000" stroke-width="1.7" />
<line x1="862.1" y1="646.04" x2="853.3" y2="646.04" stroke="#000" stroke-width="1.7" />
<line x1="862.1" y1="499.33" x2="858" y2="499.33" stroke="#000" stroke-width="1.7" />
<line x1="862.1" y1="516.59" x2="858" y2="516.59" stroke="#000" stroke-width="1.7" />
<line x1="862.1" y1="533.85" x2="858" y2="533.85" stroke="#000" stroke-width="1.7" />
<line x1="862.1" y1="551.11" x2="858" y2="551.11" stroke="#000" stroke-width="1.7" />
<line x1="862.1" y1="568.37" x2="858" y2="568.37" stroke="#000" stroke-width="1.7" />
<line x1="862.1" y1="585.63" x2="858" y2="585.63" stroke="#000" stroke-width="1.7" />
<line x1="862.1" y1="602.89" x2="858" y2="602.89" stroke="#000" stroke-width="1.7" />
<line x1="862.1" y1="620.15" x2="858" y2="620.15" stroke="#000" stroke-width="1.7" />
<line x1="862.1" y1="637.41" x2="858" y2="637.41" stroke="#000" stroke-width="1.7" />
<line x1="862.1" y1="654.67" x2="858" y2="654.67" stroke="#000" stroke-width="1.7" />
<text x="871.3" y="548.08" font-family='"Liberation Sans", sans-serif' font-size="20" fill="#000" >R2</text>
<text x="871.3" y="565.34" font-family='"Liberation Sans", sans-serif' font-size="20" fill="#000" >R1</text>
<rect x="87.1" y="490.7" width="775" height="172.6" fill="none" stroke="#000" stroke-width="1.7"/>
<text x="474.7" y="462.9" font-family='"Liberation Sans", sans-serif' font-size="17.5" fill="#000" text-anchor="middle" ><tspan font-style="italic">D</tspan><tspan font-style="italic" font-size="12.25" baseline-shift="-4.73">m</tspan> (mm)</text>
<text transform="translate(29.2,577) rotate(-90)" font-family='"Liberation Sans", sans-serif' font-size="33" text-anchor="middle"><tspan font-style="italic">D</tspan><tspan font-style="italic" font-size="23.1" baseline-shift="-8.91">m</tspan> (mm)</text>
<path d="M194 501.2 L203 515.4 L185 515.4 Z" fill="#fff" stroke="#F0923C" stroke-width="1.4" stroke-linejoin="miter"/>
<path d="M194 501.2 L203 515.4 L194 515.4 Z" fill="#F0923C" stroke="#F0923C" stroke-width="1.4" stroke-linejoin="miter"/>
<path d="M194 526.7 L203 540.9 L185 540.9 Z" fill="#fff" stroke="#3A8C7E" stroke-width="1.4" stroke-linejoin="miter"/>
<path d="M194 526.7 L203 540.9 L194 540.9 Z" fill="#3A8C7E" stroke="#3A8C7E" stroke-width="1.4" stroke-linejoin="miter"/>
<text x="219.2" y="516.6" font-family='"Liberation Sans", sans-serif' font-size="17.5" fill="#000" ><tspan font-style="italic">D</tspan><tspan font-style="italic" font-size="12.25" baseline-shift="-4.73">m</tspan> (Upper axis)</text>
<text x="219.2" y="542.1" font-family='"Liberation Sans", sans-serif' font-size="17.5" fill="#000" ><tspan font-style="italic">D</tspan><tspan font-style="italic" font-size="12.25" baseline-shift="-4.73">m</tspan> (Upper axis)</text>
<text x="353.4" y="516.6" font-family='"Liberation Sans", sans-serif' font-size="17.5" fill="#000" >R1:R600/R245fa</text>
<text x="353.4" y="542.1" font-family='"Liberation Sans", sans-serif' font-size="17.5" fill="#000" >R2:R1224ydz/R1233zd</text>
<line x1="194.5" y1="560" x2="529.9" y2="560" stroke="#EB9055" stroke-width="3" />
<line x1="194.5" y1="551.3" x2="194.5" y2="568.7" stroke="#EB9055" stroke-width="3" stroke-linecap="round"/>
<line x1="529.9" y1="551.3" x2="529.9" y2="568.7" stroke="#EB9055" stroke-width="3" stroke-linecap="round"/>
<path d="M220.6 552.6 L227.2 563.2 L214 563.2 Z" fill="none" stroke="#EB9055" stroke-width="1.3" stroke-linejoin="miter"/>
<path d="M220.6 552.6 L227.2 563.2 L220.6 563.2 Z" fill="#EB9055" stroke="#EB9055" stroke-width="1.3" stroke-linejoin="miter"/>
<line x1="749" y1="542.8" x2="778.3" y2="542.8" stroke="#6CBCAB" stroke-width="3" />
<line x1="749" y1="534.8" x2="749" y2="550.8" stroke="#6CBCAB" stroke-width="3" stroke-linecap="round"/>
<line x1="778.3" y1="534.8" x2="778.3" y2="550.8" stroke="#6CBCAB" stroke-width="3" stroke-linecap="round"/>
<path d="M752 537 L756.5 546.5 L747.5 546.5 Z" fill="none" stroke="#6CBCAB" stroke-width="1.0" stroke-linejoin="miter"/>
<path d="M752 537 L756.5 546.5 L752 546.5 Z" fill="#6CBCAB" stroke="#6CBCAB" stroke-width="1.0" stroke-linejoin="miter"/>
<rect x="130.7" y="545" width="57.7" height="29.3" fill="#EB9055" />
<text x="159.55" y="567.1" font-family='"Liberation Sans", sans-serif' font-size="20.8" fill="#fff" text-anchor="middle" font-weight="bold" >21.52</text>
<rect x="536.2" y="545" width="57.9" height="29.9" fill="#EB9055" />
<text x="565.15" y="567.4" font-family='"Liberation Sans", sans-serif' font-size="20.8" fill="#fff" text-anchor="middle" font-weight="bold" >25.72</text>
<rect x="679.2" y="524.5" width="52.9" height="29.9" fill="#6CBCAB" />
<text x="705.65" y="546.97" font-family='"Liberation Serif", serif' font-size="21" fill="#fff" text-anchor="middle" font-weight="bold" >28.55</text>
<rect x="793.2" y="524.5" width="52.7" height="29.9" fill="#6CBCAB" />
<text x="819.55" y="546.97" font-family='"Liberation Serif", serif' font-size="21" fill="#fff" text-anchor="middle" font-weight="bold" >28.92</text>
<text x="228.3" y="588" font-family='"Liberation Sans", sans-serif' font-size="20.8" fill="#EB9055" text-anchor="middle" font-weight="bold" >21.73</text>
<text x="761.3" y="525.3" font-family='"Liberation Sans", sans-serif' font-size="20.8" fill="#6CBCAB" text-anchor="middle" font-weight="bold" >28.58</text>
<rect x="687.2" y="564.2" width="39.2" height="19" fill="#C9814C" stroke="#000" stroke-width="1.2" />
<rect x="687.2" y="589.6" width="39.2" height="19.2" fill="#5DA596" stroke="#000" stroke-width="1.2" />
<text x="737.3" y="579.2" font-family='"Liberation Sans", sans-serif' font-size="17.5" fill="#000" ><tspan font-style="italic">D</tspan><tspan font-style="italic" font-size="12.25" baseline-shift="-4.73">m</tspan> (Left axis)</text>
<text x="737.3" y="604.6" font-family='"Liberation Sans", sans-serif' font-size="17.5" fill="#000" ><tspan font-style="italic">D</tspan><tspan font-style="italic" font-size="12.25" baseline-shift="-4.73">m</tspan> (Left axis)</text>
<text x="459.3" y="742.3" font-family='"Liberation Sans", sans-serif' font-size="33"><tspan font-style="italic">Z</tspan><tspan font-style="italic" font-size="23.1" baseline-shift="-8.91">0</tspan></text>
<line x1="1081.25" y1="663.3" x2="1081.25" y2="658.3" stroke="#000" stroke-width="2.2" />
<line x1="1151.71" y1="663.3" x2="1151.71" y2="658.3" stroke="#000" stroke-width="2.2" />
<line x1="1222.16" y1="663.3" x2="1222.16" y2="658.3" stroke="#000" stroke-width="2.2" />
<line x1="1292.62" y1="663.3" x2="1292.62" y2="658.3" stroke="#000" stroke-width="2.2" />
<line x1="1363.07" y1="663.3" x2="1363.07" y2="658.3" stroke="#000" stroke-width="2.2" />
<line x1="1433.53" y1="663.3" x2="1433.53" y2="658.3" stroke="#000" stroke-width="2.2" />
<line x1="1503.98" y1="663.3" x2="1503.98" y2="658.3" stroke="#000" stroke-width="2.2" />
<line x1="1574.44" y1="663.3" x2="1574.44" y2="658.3" stroke="#000" stroke-width="2.2" />
<line x1="1644.89" y1="663.3" x2="1644.89" y2="658.3" stroke="#000" stroke-width="2.2" />
<line x1="1715.35" y1="663.3" x2="1715.35" y2="658.3" stroke="#000" stroke-width="2.2" />
<line x1="1010.8" y1="639.43" x2="1022.3" y2="639.43" stroke="#000" stroke-width="2.2" />
<line x1="1010.8" y1="520.08" x2="1022.3" y2="520.08" stroke="#000" stroke-width="2.2" />
<line x1="1010.8" y1="400.74" x2="1022.3" y2="400.74" stroke="#000" stroke-width="2.2" />
<line x1="1010.8" y1="281.39" x2="1022.3" y2="281.39" stroke="#000" stroke-width="2.2" />
<line x1="1010.8" y1="162.05" x2="1022.3" y2="162.05" stroke="#000" stroke-width="2.2" />
<line x1="1010.8" y1="579.76" x2="1016.8" y2="579.76" stroke="#000" stroke-width="2.2" />
<line x1="1010.8" y1="460.41" x2="1016.8" y2="460.41" stroke="#000" stroke-width="2.2" />
<line x1="1010.8" y1="341.07" x2="1016.8" y2="341.07" stroke="#000" stroke-width="2.2" />
<line x1="1010.8" y1="221.72" x2="1016.8" y2="221.72" stroke="#000" stroke-width="2.2" />
<line x1="1010.8" y1="102.37" x2="1016.8" y2="102.37" stroke="#000" stroke-width="2.2" />
<line x1="1785.8" y1="601.24" x2="1774.3" y2="601.24" stroke="#000" stroke-width="2.2" />
<line x1="1785.8" y1="539.18" x2="1774.3" y2="539.18" stroke="#000" stroke-width="2.2" />
<line x1="1785.8" y1="477.12" x2="1774.3" y2="477.12" stroke="#000" stroke-width="2.2" />
<line x1="1785.8" y1="415.06" x2="1774.3" y2="415.06" stroke="#000" stroke-width="2.2" />
<line x1="1785.8" y1="353" x2="1774.3" y2="353" stroke="#000" stroke-width="2.2" />
<line x1="1785.8" y1="290.94" x2="1774.3" y2="290.94" stroke="#000" stroke-width="2.2" />
<line x1="1785.8" y1="228.88" x2="1774.3" y2="228.88" stroke="#000" stroke-width="2.2" />
<line x1="1785.8" y1="166.82" x2="1774.3" y2="166.82" stroke="#000" stroke-width="2.2" />
<line x1="1785.8" y1="104.76" x2="1774.3" y2="104.76" stroke="#000" stroke-width="2.2" />
<line x1="1785.8" y1="632.27" x2="1779.8" y2="632.27" stroke="#000" stroke-width="2.2" />
<line x1="1785.8" y1="570.21" x2="1779.8" y2="570.21" stroke="#000" stroke-width="2.2" />
<line x1="1785.8" y1="508.15" x2="1779.8" y2="508.15" stroke="#000" stroke-width="2.2" />
<line x1="1785.8" y1="446.09" x2="1779.8" y2="446.09" stroke="#000" stroke-width="2.2" />
<line x1="1785.8" y1="384.03" x2="1779.8" y2="384.03" stroke="#000" stroke-width="2.2" />
<line x1="1785.8" y1="321.97" x2="1779.8" y2="321.97" stroke="#000" stroke-width="2.2" />
<line x1="1785.8" y1="259.91" x2="1779.8" y2="259.91" stroke="#000" stroke-width="2.2" />
<line x1="1785.8" y1="197.85" x2="1779.8" y2="197.85" stroke="#000" stroke-width="2.2" />
<line x1="1785.8" y1="135.79" x2="1779.8" y2="135.79" stroke="#000" stroke-width="2.2" />
<line x1="1785.8" y1="73.73" x2="1779.8" y2="73.73" stroke="#000" stroke-width="2.2" />
<rect x="1017.83" y="474.6" width="28.2" height="188.7" fill="#EB9055" stroke="#000" stroke-width="2.0" />
<rect x="1046.03" y="434.16" width="28.2" height="229.14" fill="#6CBCAB" stroke="#000" stroke-width="2.0" />
<text x="1060.13" y="428.86" font-family='"Liberation Sans", sans-serif' font-size="21" fill="#2E8B7A" text-anchor="middle" >4.36</text>
<text x="1046.03" y="697.2" font-family='"Liberation Sans", sans-serif' font-size="26.5" fill="#000" text-anchor="middle" >0</text>
<rect x="1088.28" y="499.1" width="28.2" height="164.2" fill="#EB9055" stroke="#000" stroke-width="2.0" />
<rect x="1116.48" y="446.09" width="28.2" height="217.21" fill="#6CBCAB" stroke="#000" stroke-width="2.0" />
<text x="1130.58" y="440.79" font-family='"Liberation Sans", sans-serif' font-size="21" fill="#2E8B7A" text-anchor="middle" >4.31</text>
<text x="1116.48" y="697.2" font-family='"Liberation Sans", sans-serif' font-size="26.5" fill="#000" text-anchor="middle" >1</text>
<rect x="1158.74" y="522.3" width="28.2" height="141" fill="#EB9055" stroke="#000" stroke-width="2.0" />
<rect x="1186.94" y="455.64" width="28.2" height="207.66" fill="#6CBCAB" stroke="#000" stroke-width="2.0" />
<text x="1201.04" y="450.34" font-family='"Liberation Sans", sans-serif' font-size="21" fill="#2E8B7A" text-anchor="middle" >4.27</text>
<text x="1186.94" y="697.2" font-family='"Liberation Sans", sans-serif' font-size="26.5" fill="#000" text-anchor="middle" >2</text>
<rect x="1229.19" y="543.9" width="28.2" height="119.4" fill="#EB9055" stroke="#000" stroke-width="2.0" />
<rect x="1257.39" y="465.19" width="28.2" height="198.11" fill="#6CBCAB" stroke="#000" stroke-width="2.0" />
<text x="1271.49" y="459.89" font-family='"Liberation Sans", sans-serif' font-size="21" fill="#2E8B7A" text-anchor="middle" >4.23</text>
<text x="1257.39" y="697.2" font-family='"Liberation Sans", sans-serif' font-size="26.5" fill="#000" text-anchor="middle" >3</text>
<rect x="1299.65" y="554.8" width="28.2" height="108.5" fill="#EB9055" stroke="#000" stroke-width="2.0" />
<rect x="1327.85" y="474.73" width="28.2" height="188.57" fill="#6CBCAB" stroke="#000" stroke-width="2.0" />
<text x="1341.95" y="469.43" font-family='"Liberation Sans", sans-serif' font-size="21" fill="#2E8B7A" text-anchor="middle" >4.19</text>
<text x="1327.85" y="697.2" font-family='"Liberation Sans", sans-serif' font-size="26.5" fill="#000" text-anchor="middle" >4</text>
<rect x="1370.1" y="575" width="28.2" height="88.3" fill="#EB9055" stroke="#000" stroke-width="2.0" />
<rect x="1398.3" y="484.28" width="28.2" height="179.02" fill="#6CBCAB" stroke="#000" stroke-width="2.0" />
<text x="1412.4" y="478.98" font-family='"Liberation Sans", sans-serif' font-size="21" fill="#2E8B7A" text-anchor="middle" >4.15</text>
<text x="1398.3" y="697.2" font-family='"Liberation Sans", sans-serif' font-size="26.5" fill="#000" text-anchor="middle" >5</text>
<rect x="1440.55" y="584.6" width="28.2" height="78.7" fill="#EB9055" stroke="#000" stroke-width="2.0" />
<rect x="1468.75" y="493.83" width="28.2" height="169.47" fill="#6CBCAB" stroke="#000" stroke-width="2.0" />
<text x="1482.85" y="488.53" font-family='"Liberation Sans", sans-serif' font-size="21" fill="#2E8B7A" text-anchor="middle" >4.11</text>
<text x="1468.75" y="697.2" font-family='"Liberation Sans", sans-serif' font-size="26.5" fill="#000" text-anchor="middle" >6</text>
<rect x="1511.01" y="603.2" width="28.2" height="60.1" fill="#EB9055" stroke="#000" stroke-width="2.0" />
<rect x="1539.21" y="503.38" width="28.2" height="159.92" fill="#6CBCAB" stroke="#000" stroke-width="2.0" />
<text x="1553.31" y="498.08" font-family='"Liberation Sans", sans-serif' font-size="21" fill="#2E8B7A" text-anchor="middle" >4.07</text>
<text x="1539.21" y="697.2" font-family='"Liberation Sans", sans-serif' font-size="26.5" fill="#000" text-anchor="middle" >7</text>
<rect x="1581.46" y="621.5" width="28.2" height="41.8" fill="#EB9055" stroke="#000" stroke-width="2.0" />
<rect x="1609.66" y="512.92" width="28.2" height="150.38" fill="#6CBCAB" stroke="#000" stroke-width="2.0" />
<text x="1623.76" y="507.62" font-family='"Liberation Sans", sans-serif' font-size="21" fill="#2E8B7A" text-anchor="middle" >4.03</text>
<text x="1609.66" y="697.2" font-family='"Liberation Sans", sans-serif' font-size="26.5" fill="#000" text-anchor="middle" >8</text>
<rect x="1651.92" y="629.6" width="28.2" height="33.7" fill="#EB9055" stroke="#000" stroke-width="2.0" />
<rect x="1680.12" y="522.47" width="28.2" height="140.83" fill="#6CBCAB" stroke="#000" stroke-width="2.0" />
<text x="1694.22" y="517.17" font-family='"Liberation Sans", sans-serif' font-size="21" fill="#2E8B7A" text-anchor="middle" >3.99</text>
<text x="1680.12" y="697.2" font-family='"Liberation Sans", sans-serif' font-size="26.5" fill="#000" text-anchor="middle" >9</text>
<rect x="1722.37" y="647.9" width="28.2" height="15.4" fill="#EB9055" stroke="#000" stroke-width="2.0" />
<rect x="1750.57" y="532.02" width="28.2" height="131.28" fill="#6CBCAB" stroke="#000" stroke-width="2.0" />
<text x="1764.67" y="526.72" font-family='"Liberation Sans", sans-serif' font-size="21" fill="#2E8B7A" text-anchor="middle" >3.95</text>
<text x="1750.57" y="697.2" font-family='"Liberation Sans", sans-serif' font-size="26.5" fill="#000" text-anchor="middle" >10</text>
<rect x="1010.8" y="42.7" width="775" height="620.6" fill="none" stroke="#000" stroke-width="2.2"/>
<text x="996.5" y="648.23" font-family='"Liberation Sans", sans-serif' font-size="26.5" fill="#000" text-anchor="end" >3.5</text>
<text x="996.5" y="528.88" font-family='"Liberation Sans", sans-serif' font-size="26.5" fill="#000" text-anchor="end" >4.0</text>
<text x="996.5" y="409.54" font-family='"Liberation Sans", sans-serif' font-size="26.5" fill="#000" text-anchor="end" >4.5</text>
<text x="996.5" y="290.19" font-family='"Liberation Sans", sans-serif' font-size="26.5" fill="#000" text-anchor="end" >5.0</text>
<text x="996.5" y="170.85" font-family='"Liberation Sans", sans-serif' font-size="26.5" fill="#000" text-anchor="end" >5.5</text>
<text x="996.5" y="51.5" font-family='"Liberation Sans", sans-serif' font-size="26.5" fill="#000" text-anchor="end" >6.0</text>
<text x="1799.5" y="672.1" font-family='"Liberation Sans", sans-serif' font-size="26.5" fill="#000" >7.0</text>
<text x="1799.5" y="610.04" font-family='"Liberation Sans", sans-serif' font-size="26.5" fill="#000" >7.5</text>
<text x="1799.5" y="547.98" font-family='"Liberation Sans", sans-serif' font-size="26.5" fill="#000" >8.0</text>
<text x="1799.5" y="485.92" font-family='"Liberation Sans", sans-serif' font-size="26.5" fill="#000" >8.5</text>
<text x="1799.5" y="423.86" font-family='"Liberation Sans", sans-serif' font-size="26.5" fill="#000" >9.0</text>
<text x="1799.5" y="361.8" font-family='"Liberation Sans", sans-serif' font-size="26.5" fill="#000" >9.5</text>
<text x="1799.5" y="299.74" font-family='"Liberation Sans", sans-serif' font-size="26.5" fill="#000" >10.0</text>
<text x="1799.5" y="237.68" font-family='"Liberation Sans", sans-serif' font-size="26.5" fill="#000" >10.5</text>
<text x="1799.5" y="175.62" font-family='"Liberation Sans", sans-serif' font-size="26.5" fill="#000" >11.0</text>
<text x="1799.5" y="113.56" font-family='"Liberation Sans", sans-serif' font-size="26.5" fill="#000" >11.5</text>
<text x="1799.5" y="51.5" font-family='"Liberation Sans", sans-serif' font-size="26.5" fill="#000" >12.0</text>
<line x1="1910" y1="41.6" x2="1910" y2="664.4" stroke="#000" stroke-width="2.2" />
<line x1="1910" y1="663.3" x2="1897.5" y2="663.3" stroke="#000" stroke-width="2.2" />
<line x1="1910" y1="618.97" x2="1897.5" y2="618.97" stroke="#000" stroke-width="2.2" />
<line x1="1910" y1="574.64" x2="1897.5" y2="574.64" stroke="#000" stroke-width="2.2" />
<line x1="1910" y1="530.31" x2="1897.5" y2="530.31" stroke="#000" stroke-width="2.2" />
<line x1="1910" y1="485.99" x2="1897.5" y2="485.99" stroke="#000" stroke-width="2.2" />
<line x1="1910" y1="441.66" x2="1897.5" y2="441.66" stroke="#000" stroke-width="2.2" />
<line x1="1910" y1="397.33" x2="1897.5" y2="397.33" stroke="#000" stroke-width="2.2" />
<line x1="1910" y1="353" x2="1897.5" y2="353" stroke="#000" stroke-width="2.2" />
<line x1="1910" y1="308.67" x2="1897.5" y2="308.67" stroke="#000" stroke-width="2.2" />
<line x1="1910" y1="264.34" x2="1897.5" y2="264.34" stroke="#000" stroke-width="2.2" />
<line x1="1910" y1="220.01" x2="1897.5" y2="220.01" stroke="#000" stroke-width="2.2" />
<line x1="1910" y1="175.69" x2="1897.5" y2="175.69" stroke="#000" stroke-width="2.2" />
<line x1="1910" y1="131.36" x2="1897.5" y2="131.36" stroke="#000" stroke-width="2.2" />
<line x1="1910" y1="87.03" x2="1897.5" y2="87.03" stroke="#000" stroke-width="2.2" />
<line x1="1910" y1="42.7" x2="1897.5" y2="42.7" stroke="#000" stroke-width="2.2" />
<line x1="1910" y1="641.14" x2="1903.5" y2="641.14" stroke="#000" stroke-width="2.2" />
<line x1="1910" y1="596.81" x2="1903.5" y2="596.81" stroke="#000" stroke-width="2.2" />
<line x1="1910" y1="552.48" x2="1903.5" y2="552.48" stroke="#000" stroke-width="2.2" />
<line x1="1910" y1="508.15" x2="1903.5" y2="508.15" stroke="#000" stroke-width="2.2" />
<line x1="1910" y1="463.82" x2="1903.5" y2="463.82" stroke="#000" stroke-width="2.2" />
<line x1="1910" y1="419.49" x2="1903.5" y2="419.49" stroke="#000" stroke-width="2.2" />
<line x1="1910" y1="375.16" x2="1903.5" y2="375.16" stroke="#000" stroke-width="2.2" />
<line x1="1910" y1="330.84" x2="1903.5" y2="330.84" stroke="#000" stroke-width="2.2" />
<line x1="1910" y1="286.51" x2="1903.5" y2="286.51" stroke="#000" stroke-width="2.2" />
<line x1="1910" y1="242.18" x2="1903.5" y2="242.18" stroke="#000" stroke-width="2.2" />
<line x1="1910" y1="197.85" x2="1903.5" y2="197.85" stroke="#000" stroke-width="2.2" />
<line x1="1910" y1="153.52" x2="1903.5" y2="153.52" stroke="#000" stroke-width="2.2" />
<line x1="1910" y1="109.19" x2="1903.5" y2="109.19" stroke="#000" stroke-width="2.2" />
<line x1="1910" y1="64.86" x2="1903.5" y2="64.86" stroke="#000" stroke-width="2.2" />
<text x="1922.5" y="672.1" font-family='"Liberation Sans", sans-serif' font-size="26.5" fill="#000" >15</text>
<text x="1922.5" y="627.77" font-family='"Liberation Sans", sans-serif' font-size="26.5" fill="#000" >16</text>
<text x="1922.5" y="583.44" font-family='"Liberation Sans", sans-serif' font-size="26.5" fill="#000" >17</text>
<text x="1922.5" y="539.11" font-family='"Liberation Sans", sans-serif' font-size="26.5" fill="#000" >18</text>
<text x="1922.5" y="494.79" font-family='"Liberation Sans", sans-serif' font-size="26.5" fill="#000" >19</text>
<text x="1922.5" y="450.46" font-family='"Liberation Sans", sans-serif' font-size="26.5" fill="#000" >20</text>
<text x="1922.5" y="406.13" font-family='"Liberation Sans", sans-serif' font-size="26.5" fill="#000" >21</text>
<text x="1922.5" y="361.8" font-family='"Liberation Sans", sans-serif' font-size="26.5" fill="#000" >22</text>
<text x="1922.5" y="317.47" font-family='"Liberation Sans", sans-serif' font-size="26.5" fill="#000" >23</text>
<text x="1922.5" y="273.14" font-family='"Liberation Sans", sans-serif' font-size="26.5" fill="#000" >24</text>
<text x="1922.5" y="228.81" font-family='"Liberation Sans", sans-serif' font-size="26.5" fill="#000" >25</text>
<text x="1922.5" y="184.49" font-family='"Liberation Sans", sans-serif' font-size="26.5" fill="#000" >26</text>
<text x="1922.5" y="140.16" font-family='"Liberation Sans", sans-serif' font-size="26.5" fill="#000" >27</text>
<text x="1922.5" y="95.83" font-family='"Liberation Sans", sans-serif' font-size="26.5" fill="#000" >28</text>
<text x="1922.5" y="51.5" font-family='"Liberation Sans", sans-serif' font-size="26.5" fill="#000" >29</text>
<text transform="translate(941.4,353) rotate(-90)" font-family='"Liberation Sans", sans-serif' font-size="33" text-anchor="middle"><tspan font-style="italic">D</tspan><tspan font-style="italic" font-size="23.1" baseline-shift="-8.91">nt</tspan> (mm)</text>
<text transform="translate(1887.5,353) rotate(-90)" font-family='"Liberation Sans", sans-serif' font-size="33" text-anchor="middle"><tspan font-style="italic">D</tspan><tspan font-style="italic" font-size="23.1" baseline-shift="-8.91">no</tspan> (mm)</text>
<text transform="translate(1990,352) rotate(-90)" font-family='"Liberation Sans", sans-serif' font-size="32.5" text-anchor="middle"><tspan font-style="italic">D</tspan><tspan font-style="italic" font-size="22.75" baseline-shift="-8.78">m</tspan> (mm)</text>
<text x="1398.5" y="742" font-size="33" text-anchor="middle" font-family='"Liberation Sans", sans-serif'><tspan font-family='"Liberation Serif", serif'>Δ</tspan><tspan font-style="italic">t</tspan><tspan font-style="italic" font-size="21.95" baseline-shift="-8.91">subc1</tspan></text>
<polyline fill="none" stroke="#2E8B7A" stroke-width="2.3" points="1046.03,102.6 1116.48,103.42 1186.94,104.24 1257.39,105.06 1327.85,105.88 1398.3,106.7 1468.75,107.52 1539.21,108.34 1609.66,109.16 1680.12,109.98 1750.57,110.8"/>
<circle cx="1046.03" cy="102.6" r="7.2" fill="#fff" stroke="#2E8B7A" stroke-width="1.3"/>
<path d="M1046.03 95.4 A7.2 7.2 0 0 1 1046.03 109.8 Z" fill="#2E8B7A" stroke="#2E8B7A" stroke-width="1.3"/>
<circle cx="1116.48" cy="103.42" r="7.2" fill="#fff" stroke="#2E8B7A" stroke-width="1.3"/>
<path d="M1116.48 96.22 A7.2 7.2 0 0 1 1116.48 110.62 Z" fill="#2E8B7A" stroke="#2E8B7A" stroke-width="1.3"/>
<circle cx="1186.94" cy="104.24" r="7.2" fill="#fff" stroke="#2E8B7A" stroke-width="1.3"/>
<path d="M1186.94 97.04 A7.2 7.2 0 0 1 1186.94 111.44 Z" fill="#2E8B7A" stroke="#2E8B7A" stroke-width="1.3"/>
<circle cx="1257.39" cy="105.06" r="7.2" fill="#fff" stroke="#2E8B7A" stroke-width="1.3"/>
<path d="M1257.39 97.86 A7.2 7.2 0 0 1 1257.39 112.26 Z" fill="#2E8B7A" stroke="#2E8B7A" stroke-width="1.3"/>
<circle cx="1327.85" cy="105.88" r="7.2" fill="#fff" stroke="#2E8B7A" stroke-width="1.3"/>
<path d="M1327.85 98.68 A7.2 7.2 0 0 1 1327.85 113.08 Z" fill="#2E8B7A" stroke="#2E8B7A" stroke-width="1.3"/>
<circle cx="1398.3" cy="106.7" r="7.2" fill="#fff" stroke="#2E8B7A" stroke-width="1.3"/>
<path d="M1398.3 99.5 A7.2 7.2 0 0 1 1398.3 113.9 Z" fill="#2E8B7A" stroke="#2E8B7A" stroke-width="1.3"/>
<circle cx="1468.75" cy="107.52" r="7.2" fill="#fff" stroke="#2E8B7A" stroke-width="1.3"/>
<path d="M1468.75 100.32 A7.2 7.2 0 0 1 1468.75 114.72 Z" fill="#2E8B7A" stroke="#2E8B7A" stroke-width="1.3"/>
<circle cx="1539.21" cy="108.34" r="7.2" fill="#fff" stroke="#2E8B7A" stroke-width="1.3"/>
<path d="M1539.21 101.14 A7.2 7.2 0 0 1 1539.21 115.54 Z" fill="#2E8B7A" stroke="#2E8B7A" stroke-width="1.3"/>
<circle cx="1609.66" cy="109.16" r="7.2" fill="#fff" stroke="#2E8B7A" stroke-width="1.3"/>
<path d="M1609.66 101.96 A7.2 7.2 0 0 1 1609.66 116.36 Z" fill="#2E8B7A" stroke="#2E8B7A" stroke-width="1.3"/>
<circle cx="1680.12" cy="109.98" r="7.2" fill="#fff" stroke="#2E8B7A" stroke-width="1.3"/>
<path d="M1680.12 102.78 A7.2 7.2 0 0 1 1680.12 117.18 Z" fill="#2E8B7A" stroke="#2E8B7A" stroke-width="1.3"/>
<circle cx="1750.57" cy="110.8" r="7.2" fill="#fff" stroke="#2E8B7A" stroke-width="1.3"/>
<path d="M1750.57 103.6 A7.2 7.2 0 0 1 1750.57 118 Z" fill="#2E8B7A" stroke="#2E8B7A" stroke-width="1.3"/>
<path d="M1046.03 51.5 L1054.23 65.1 L1037.83 65.1 Z" fill="#fff" stroke="#2E8B7A" stroke-width="1.1" stroke-linejoin="miter"/>
<path d="M1046.03 51.5 L1054.23 65.1 L1046.03 65.1 Z" fill="#2E8B7A" stroke="#2E8B7A" stroke-width="1.1" stroke-linejoin="miter"/>
<path d="M1116.48 51.77 L1124.68 65.37 L1108.28 65.37 Z" fill="#fff" stroke="#2E8B7A" stroke-width="1.1" stroke-linejoin="miter"/>
<path d="M1116.48 51.77 L1124.68 65.37 L1116.48 65.37 Z" fill="#2E8B7A" stroke="#2E8B7A" stroke-width="1.1" stroke-linejoin="miter"/>
<path d="M1186.94 52.04 L1195.14 65.64 L1178.74 65.64 Z" fill="#fff" stroke="#2E8B7A" stroke-width="1.1" stroke-linejoin="miter"/>
<path d="M1186.94 52.04 L1195.14 65.64 L1186.94 65.64 Z" fill="#2E8B7A" stroke="#2E8B7A" stroke-width="1.1" stroke-linejoin="miter"/>
<path d="M1257.39 52.31 L1265.59 65.91 L1249.19 65.91 Z" fill="#fff" stroke="#2E8B7A" stroke-width="1.1" stroke-linejoin="miter"/>
<path d="M1257.39 52.31 L1265.59 65.91 L1257.39 65.91 Z" fill="#2E8B7A" stroke="#2E8B7A" stroke-width="1.1" stroke-linejoin="miter"/>
<path d="M1327.85 52.58 L1336.05 66.18 L1319.65 66.18 Z" fill="#fff" stroke="#2E8B7A" stroke-width="1.1" stroke-linejoin="miter"/>
<path d="M1327.85 52.58 L1336.05 66.18 L1327.85 66.18 Z" fill="#2E8B7A" stroke="#2E8B7A" stroke-width="1.1" stroke-linejoin="miter"/>
<path d="M1398.3 52.85 L1406.5 66.45 L1390.1 66.45 Z" fill="#fff" stroke="#2E8B7A" stroke-width="1.1" stroke-linejoin="miter"/>
<path d="M1398.3 52.85 L1406.5 66.45 L1398.3 66.45 Z" fill="#2E8B7A" stroke="#2E8B7A" stroke-width="1.1" stroke-linejoin="miter"/>
<path d="M1468.75 53.12 L1476.95 66.72 L1460.55 66.72 Z" fill="#fff" stroke="#2E8B7A" stroke-width="1.1" stroke-linejoin="miter"/>
<path d="M1468.75 53.12 L1476.95 66.72 L1468.75 66.72 Z" fill="#2E8B7A" stroke="#2E8B7A" stroke-width="1.1" stroke-linejoin="miter"/>
<path d="M1539.21 53.39 L1547.41 66.99 L1531.01 66.99 Z" fill="#fff" stroke="#2E8B7A" stroke-width="1.1" stroke-linejoin="miter"/>
<path d="M1539.21 53.39 L1547.41 66.99 L1539.21 66.99 Z" fill="#2E8B7A" stroke="#2E8B7A" stroke-width="1.1" stroke-linejoin="miter"/>
<path d="M1609.66 53.66 L1617.86 67.26 L1601.46 67.26 Z" fill="#fff" stroke="#2E8B7A" stroke-width="1.1" stroke-linejoin="miter"/>
<path d="M1609.66 53.66 L1617.86 67.26 L1609.66 67.26 Z" fill="#2E8B7A" stroke="#2E8B7A" stroke-width="1.1" stroke-linejoin="miter"/>
<path d="M1680.12 53.93 L1688.32 67.53 L1671.92 67.53 Z" fill="#fff" stroke="#2E8B7A" stroke-width="1.1" stroke-linejoin="miter"/>
<path d="M1680.12 53.93 L1688.32 67.53 L1680.12 67.53 Z" fill="#2E8B7A" stroke="#2E8B7A" stroke-width="1.1" stroke-linejoin="miter"/>
<path d="M1750.57 54.2 L1758.77 67.8 L1742.37 67.8 Z" fill="#fff" stroke="#2E8B7A" stroke-width="1.1" stroke-linejoin="miter"/>
<path d="M1750.57 54.2 L1758.77 67.8 L1750.57 67.8 Z" fill="#2E8B7A" stroke="#2E8B7A" stroke-width="1.1" stroke-linejoin="miter"/>
<text x="1045.6" y="85.9" font-family='"Liberation Sans", sans-serif' font-size="21" fill="#2E8B7A" text-anchor="middle" >28.61</text>
<text x="1750.5" y="88.2" font-family='"Liberation Sans", sans-serif' font-size="21" fill="#2E8B7A" text-anchor="middle" >28.55</text>
<polyline fill="none" stroke="#ED894A" stroke-width="2.3" points="1046.03,380.5 1116.48,393.3 1186.94,405.5 1257.39,419.4 1327.85,420.3 1398.3,433.6 1468.75,434.5 1539.21,448.1 1609.66,461.5 1680.12,462.3 1750.57,476.3"/>
<circle cx="1046.03" cy="380.5" r="7.2" fill="#fff" stroke="#ED894A" stroke-width="1.3"/>
<path d="M1046.03 373.3 A7.2 7.2 0 0 1 1046.03 387.7 Z" fill="#ED894A" stroke="#ED894A" stroke-width="1.3"/>
<circle cx="1116.48" cy="393.3" r="7.2" fill="#fff" stroke="#ED894A" stroke-width="1.3"/>
<path d="M1116.48 386.1 A7.2 7.2 0 0 1 1116.48 400.5 Z" fill="#ED894A" stroke="#ED894A" stroke-width="1.3"/>
<circle cx="1186.94" cy="405.5" r="7.2" fill="#fff" stroke="#ED894A" stroke-width="1.3"/>
<path d="M1186.94 398.3 A7.2 7.2 0 0 1 1186.94 412.7 Z" fill="#ED894A" stroke="#ED894A" stroke-width="1.3"/>
<circle cx="1257.39" cy="419.4" r="7.2" fill="#fff" stroke="#ED894A" stroke-width="1.3"/>
<path d="M1257.39 412.2 A7.2 7.2 0 0 1 1257.39 426.6 Z" fill="#ED894A" stroke="#ED894A" stroke-width="1.3"/>
<circle cx="1327.85" cy="420.3" r="7.2" fill="#fff" stroke="#ED894A" stroke-width="1.3"/>
<path d="M1327.85 413.1 A7.2 7.2 0 0 1 1327.85 427.5 Z" fill="#ED894A" stroke="#ED894A" stroke-width="1.3"/>
<circle cx="1398.3" cy="433.6" r="7.2" fill="#fff" stroke="#ED894A" stroke-width="1.3"/>
<path d="M1398.3 426.4 A7.2 7.2 0 0 1 1398.3 440.8 Z" fill="#ED894A" stroke="#ED894A" stroke-width="1.3"/>
<circle cx="1468.75" cy="434.5" r="7.2" fill="#fff" stroke="#ED894A" stroke-width="1.3"/>
<path d="M1468.75 427.3 A7.2 7.2 0 0 1 1468.75 441.7 Z" fill="#ED894A" stroke="#ED894A" stroke-width="1.3"/>
<circle cx="1539.21" cy="448.1" r="7.2" fill="#fff" stroke="#ED894A" stroke-width="1.3"/>
<path d="M1539.21 440.9 A7.2 7.2 0 0 1 1539.21 455.3 Z" fill="#ED894A" stroke="#ED894A" stroke-width="1.3"/>
<circle cx="1609.66" cy="461.5" r="7.2" fill="#fff" stroke="#ED894A" stroke-width="1.3"/>
<path d="M1609.66 454.3 A7.2 7.2 0 0 1 1609.66 468.7 Z" fill="#ED894A" stroke="#ED894A" stroke-width="1.3"/>
<circle cx="1680.12" cy="462.3" r="7.2" fill="#fff" stroke="#ED894A" stroke-width="1.3"/>
<path d="M1680.12 455.1 A7.2 7.2 0 0 1 1680.12 469.5 Z" fill="#ED894A" stroke="#ED894A" stroke-width="1.3"/>
<circle cx="1750.57" cy="476.3" r="7.2" fill="#fff" stroke="#ED894A" stroke-width="1.3"/>
<path d="M1750.57 469.1 A7.2 7.2 0 0 1 1750.57 483.5 Z" fill="#ED894A" stroke="#ED894A" stroke-width="1.3"/>
<path d="M1046.03 346.5 L1054.23 360.1 L1037.83 360.1 Z" fill="#fff" stroke="#ED894A" stroke-width="1.1" stroke-linejoin="miter"/>
<path d="M1046.03 346.5 L1054.23 360.1 L1046.03 360.1 Z" fill="#ED894A" stroke="#ED894A" stroke-width="1.1" stroke-linejoin="miter"/>
<path d="M1116.48 349.2 L1124.68 362.8 L1108.28 362.8 Z" fill="#fff" stroke="#ED894A" stroke-width="1.1" stroke-linejoin="miter"/>
<path d="M1116.48 349.2 L1124.68 362.8 L1116.48 362.8 Z" fill="#ED894A" stroke="#ED894A" stroke-width="1.1" stroke-linejoin="miter"/>
<path d="M1186.94 352.1 L1195.14 365.7 L1178.74 365.7 Z" fill="#fff" stroke="#ED894A" stroke-width="1.1" stroke-linejoin="miter"/>
<path d="M1186.94 352.1 L1195.14 365.7 L1186.94 365.7 Z" fill="#ED894A" stroke="#ED894A" stroke-width="1.1" stroke-linejoin="miter"/>
<path d="M1257.39 353.9 L1265.59 367.5 L1249.19 367.5 Z" fill="#fff" stroke="#ED894A" stroke-width="1.1" stroke-linejoin="miter"/>
<path d="M1257.39 353.9 L1265.59 367.5 L1257.39 367.5 Z" fill="#ED894A" stroke="#ED894A" stroke-width="1.1" stroke-linejoin="miter"/>
<path d="M1327.85 354.1 L1336.05 367.7 L1319.65 367.7 Z" fill="#fff" stroke="#ED894A" stroke-width="1.1" stroke-linejoin="miter"/>
<path d="M1327.85 354.1 L1336.05 367.7 L1327.85 367.7 Z" fill="#ED894A" stroke="#ED894A" stroke-width="1.1" stroke-linejoin="miter"/>
<path d="M1398.3 356.4 L1406.5 370 L1390.1 370 Z" fill="#fff" stroke="#ED894A" stroke-width="1.1" stroke-linejoin="miter"/>
<path d="M1398.3 356.4 L1406.5 370 L1398.3 370 Z" fill="#ED894A" stroke="#ED894A" stroke-width="1.1" stroke-linejoin="miter"/>
<path d="M1468.75 356.6 L1476.95 370.2 L1460.55 370.2 Z" fill="#fff" stroke="#ED894A" stroke-width="1.1" stroke-linejoin="miter"/>
<path d="M1468.75 356.6 L1476.95 370.2 L1468.75 370.2 Z" fill="#ED894A" stroke="#ED894A" stroke-width="1.1" stroke-linejoin="miter"/>
<path d="M1539.21 359.1 L1547.41 372.7 L1531.01 372.7 Z" fill="#fff" stroke="#ED894A" stroke-width="1.1" stroke-linejoin="miter"/>
<path d="M1539.21 359.1 L1547.41 372.7 L1539.21 372.7 Z" fill="#ED894A" stroke="#ED894A" stroke-width="1.1" stroke-linejoin="miter"/>
<path d="M1609.66 361.5 L1617.86 375.1 L1601.46 375.1 Z" fill="#fff" stroke="#ED894A" stroke-width="1.1" stroke-linejoin="miter"/>
<path d="M1609.66 361.5 L1617.86 375.1 L1609.66 375.1 Z" fill="#ED894A" stroke="#ED894A" stroke-width="1.1" stroke-linejoin="miter"/>
<path d="M1680.12 361.9 L1688.32 375.5 L1671.92 375.5 Z" fill="#fff" stroke="#ED894A" stroke-width="1.1" stroke-linejoin="miter"/>
<path d="M1680.12 361.9 L1688.32 375.5 L1680.12 375.5 Z" fill="#ED894A" stroke="#ED894A" stroke-width="1.1" stroke-linejoin="miter"/>
<path d="M1750.57 364.4 L1758.77 378 L1742.37 378 Z" fill="#fff" stroke="#ED894A" stroke-width="1.1" stroke-linejoin="miter"/>
<path d="M1750.57 364.4 L1758.77 378 L1750.57 378 Z" fill="#ED894A" stroke="#ED894A" stroke-width="1.1" stroke-linejoin="miter"/>
<text x="1046" y="343.3" font-family='"Liberation Sans", sans-serif' font-size="21" fill="#ED894A" text-anchor="middle" >21.96</text>
<text x="1750.2" y="361.8" font-family='"Liberation Sans", sans-serif' font-size="21" fill="#ED894A" text-anchor="middle" >21.55</text>
<rect x="1043.3" y="186.7" width="44.9" height="21.2" fill="#EB9055" stroke="#000" stroke-width="2.3" />
<rect x="1043.3" y="216.6" width="44.9" height="21.2" fill="#6CBCAB" stroke="#000" stroke-width="2.3" />
<text x="1095.5" y="203.9" font-family='"Liberation Sans", sans-serif' font-size="21" fill="#000" ><tspan font-style="italic">D</tspan><tspan font-style="italic" font-size="14.7" baseline-shift="-5.67">nt</tspan></text>
<text x="1095.5" y="233.7" font-family='"Liberation Sans", sans-serif' font-size="21" fill="#000" ><tspan font-style="italic">D</tspan><tspan font-style="italic" font-size="14.7" baseline-shift="-5.67">nt</tspan></text>
<line x1="1138.2" y1="196.6" x2="1186.8" y2="196.6" stroke="#ED894A" stroke-width="2.3" />
<circle cx="1162.4" cy="196.6" r="7.2" fill="#fff" stroke="#ED894A" stroke-width="1.3"/>
<path d="M1162.4 189.4 A7.2 7.2 0 0 1 1162.4 203.8 Z" fill="#ED894A" stroke="#ED894A" stroke-width="1.3"/>
<line x1="1138.2" y1="226.5" x2="1186.8" y2="226.5" stroke="#2E8B7A" stroke-width="2.3" />
<circle cx="1162.4" cy="226.5" r="7.2" fill="#fff" stroke="#2E8B7A" stroke-width="1.3"/>
<path d="M1162.4 219.3 A7.2 7.2 0 0 1 1162.4 233.7 Z" fill="#2E8B7A" stroke="#2E8B7A" stroke-width="1.3"/>
<text x="1192.3" y="203.9" font-family='"Liberation Sans", sans-serif' font-size="21" fill="#000" ><tspan font-style="italic">D</tspan><tspan font-style="italic" font-size="14.7" baseline-shift="-5.67">no</tspan></text>
<text x="1192.3" y="233.7" font-family='"Liberation Sans", sans-serif' font-size="21" fill="#000" ><tspan font-style="italic">D</tspan><tspan font-style="italic" font-size="14.7" baseline-shift="-5.67">no</tspan></text>
<path d="M1257.1 187.4 L1265.3 201.2 L1248.9 201.2 Z" fill="#fff" stroke="#ED894A" stroke-width="1.1" stroke-linejoin="miter"/>
<path d="M1257.1 187.4 L1265.3 201.2 L1257.1 201.2 Z" fill="#ED894A" stroke="#ED894A" stroke-width="1.1" stroke-linejoin="miter"/>
<path d="M1257.1 217.4 L1265.3 231.2 L1248.9 231.2 Z" fill="#fff" stroke="#2E8B7A" stroke-width="1.1" stroke-linejoin="miter"/>
<path d="M1257.1 217.4 L1265.3 231.2 L1257.1 231.2 Z" fill="#2E8B7A" stroke="#2E8B7A" stroke-width="1.1" stroke-linejoin="miter"/>
<text x="1287.4" y="203.9" font-family='"Liberation Sans", sans-serif' font-size="21" fill="#000" ><tspan font-style="italic">D</tspan><tspan font-style="italic" font-size="14.7" baseline-shift="-5.67">m</tspan></text>
<text x="1287.4" y="233.7" font-family='"Liberation Sans", sans-serif' font-size="21" fill="#000" ><tspan font-style="italic">D</tspan><tspan font-style="italic" font-size="14.7" baseline-shift="-5.67">m</tspan></text>
<text x="1326" y="203.9" font-family='"Liberation Sans", sans-serif' font-size="20.6" fill="#000" >(R600/R245fa)</text>
<text x="1326" y="231.5" font-family='"Liberation Sans", sans-serif' font-size="20.6" fill="#000" >(R1224ydz/R1233zd)</text>
<text x="1047.5" y="269.5" font-family='"Liberation Sans", "Noto Sans CJK SC", sans-serif' font-size="20.6" fill="#000" ><tspan x="1047.5"><tspan font-style="italic">t</tspan><tspan font-style="italic" font-size="14.42" baseline-shift="-5.56">eva</tspan>=50<tspan font-size="16.89" font-family='"Liberation Sans", "Noto Sans CJK SC", sans-serif'>℃</tspan></tspan><tspan x="1129.5" font-family='"Liberation Sans", "Noto Sans CJK SC", sans-serif'>，</tspan><tspan x="1152.2"><tspan font-style="italic">t</tspan><tspan font-style="italic" font-size="14.42" baseline-shift="-5.56">con</tspan>=125<tspan font-size="16.89" font-family='"Liberation Sans", "Noto Sans CJK SC", sans-serif'>℃</tspan></tspan><tspan x="1245.5" font-family='"Liberation Sans", "Noto Sans CJK SC", sans-serif'>，</tspan><tspan x="1270.5"><tspan font-style="italic">Q</tspan><tspan font-style="italic" font-size="14.42" baseline-shift="-5.56">con</tspan>=100kW</tspan><tspan x="1384.5" font-family='"Liberation Sans", "Noto Sans CJK SC", sans-serif'>，</tspan><tspan x="1405.7"><tspan font-style="italic">Z</tspan>=0.5</tspan><tspan x="1457.5" font-family='"Liberation Sans", "Noto Sans CJK SC", sans-serif'>，</tspan><tspan x="1481.1"><tspan font-style="italic" font-family='"Liberation Serif", serif'>ε</tspan>=0.5</tspan></text>
</svg></body></html>
